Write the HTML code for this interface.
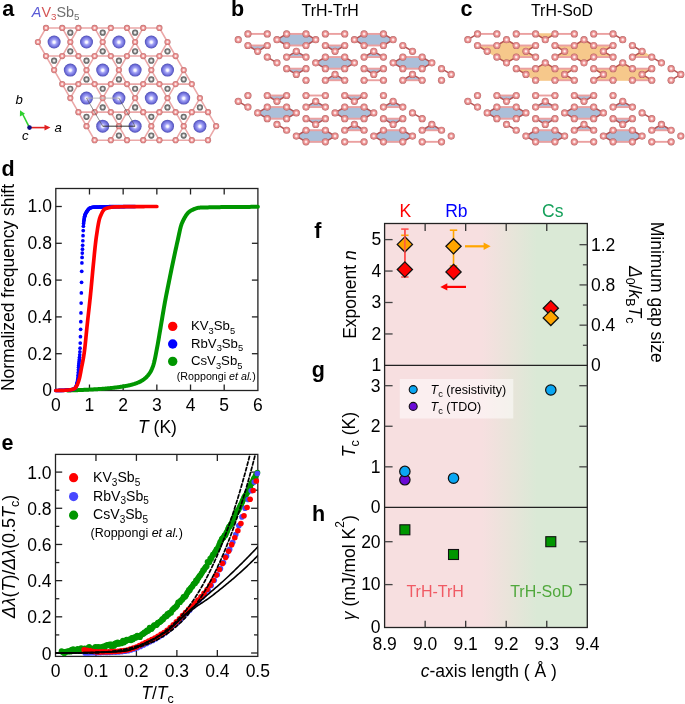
<!DOCTYPE html><html><head><meta charset="utf-8"><style>html,body{margin:0;padding:0;background:#fff;}svg{display:block;will-change:transform;}</style></head><body><svg width="685" height="704" viewBox="0 0 685 704" font-family="'Liberation Sans', sans-serif">
<rect width="685" height="704" fill="#fff"/>
<defs><radialGradient id="gA" cx="0.5" cy="0.5" r="0.5" fx="0.5" fy="0.52"><stop offset="0" stop-color="#ffffff"/><stop offset="0.18" stop-color="#f0f0ff"/><stop offset="0.4" stop-color="#a4a4f6"/><stop offset="0.75" stop-color="#7272dc"/><stop offset="1" stop-color="#4c4cb4"/></radialGradient><radialGradient id="gV" cx="0.5" cy="0.5" r="0.5"><stop offset="0" stop-color="#ffffff"/><stop offset="0.25" stop-color="#fcdcdc"/><stop offset="0.5" stop-color="#ee9a9a"/><stop offset="0.8" stop-color="#dc8080"/><stop offset="1" stop-color="#b66a6a"/></radialGradient><radialGradient id="gV2" cx="0.5" cy="0.5" r="0.5" fx="0.5" fy="0.5"><stop offset="0" stop-color="#ffffff"/><stop offset="0.22" stop-color="#fde0e0"/><stop offset="0.48" stop-color="#f09c9c"/><stop offset="0.8" stop-color="#dc8080"/><stop offset="1" stop-color="#b06262"/></radialGradient><radialGradient id="gS" cx="0.5" cy="0.5" r="0.5"><stop offset="0" stop-color="#ffffff"/><stop offset="0.3" stop-color="#dadada"/><stop offset="0.6" stop-color="#7c7c7c"/><stop offset="1" stop-color="#5e5e5e"/></radialGradient></defs>
<g stroke="#eba8a8" stroke-width="1.6" stroke-linecap="round">
<line x1="70.3" y1="42" x2="62.2" y2="56.03"/>
<line x1="70.3" y1="42" x2="62.2" y2="27.97"/>
<line x1="70.3" y1="42" x2="78.4" y2="56.03"/>
<line x1="70.3" y1="42" x2="78.4" y2="27.97"/>
<line x1="62.2" y1="56.03" x2="46" y2="56.03"/>
<line x1="62.2" y1="56.03" x2="78.4" y2="56.03"/>
<line x1="62.2" y1="56.03" x2="54.1" y2="70.06"/>
<line x1="46" y1="56.03" x2="37.9" y2="42"/>
<line x1="46" y1="56.03" x2="54.1" y2="70.06"/>
<line x1="37.9" y1="42" x2="46" y2="27.97"/>
<line x1="46" y1="27.97" x2="62.2" y2="27.97"/>
<line x1="62.2" y1="27.97" x2="78.4" y2="27.97"/>
<line x1="102.7" y1="42" x2="94.6" y2="56.03"/>
<line x1="102.7" y1="42" x2="94.6" y2="27.97"/>
<line x1="102.7" y1="42" x2="110.8" y2="56.03"/>
<line x1="102.7" y1="42" x2="110.8" y2="27.97"/>
<line x1="94.6" y1="56.03" x2="78.4" y2="56.03"/>
<line x1="94.6" y1="56.03" x2="110.8" y2="56.03"/>
<line x1="94.6" y1="56.03" x2="86.5" y2="70.06"/>
<line x1="78.4" y1="56.03" x2="86.5" y2="70.06"/>
<line x1="78.4" y1="27.97" x2="94.6" y2="27.97"/>
<line x1="94.6" y1="27.97" x2="110.8" y2="27.97"/>
<line x1="135.1" y1="42" x2="127" y2="56.03"/>
<line x1="135.1" y1="42" x2="127" y2="27.97"/>
<line x1="135.1" y1="42" x2="143.2" y2="56.03"/>
<line x1="135.1" y1="42" x2="143.2" y2="27.97"/>
<line x1="127" y1="56.03" x2="110.8" y2="56.03"/>
<line x1="127" y1="56.03" x2="143.2" y2="56.03"/>
<line x1="127" y1="56.03" x2="118.9" y2="70.06"/>
<line x1="110.8" y1="56.03" x2="118.9" y2="70.06"/>
<line x1="110.8" y1="27.97" x2="127" y2="27.97"/>
<line x1="127" y1="27.97" x2="143.2" y2="27.97"/>
<line x1="167.5" y1="42" x2="159.4" y2="56.03"/>
<line x1="167.5" y1="42" x2="159.4" y2="27.97"/>
<line x1="167.5" y1="42" x2="175.6" y2="56.03"/>
<line x1="159.4" y1="56.03" x2="143.2" y2="56.03"/>
<line x1="159.4" y1="56.03" x2="151.3" y2="70.06"/>
<line x1="159.4" y1="56.03" x2="175.6" y2="56.03"/>
<line x1="143.2" y1="56.03" x2="151.3" y2="70.06"/>
<line x1="143.2" y1="27.97" x2="159.4" y2="27.97"/>
<line x1="86.5" y1="70.06" x2="78.4" y2="84.09"/>
<line x1="86.5" y1="70.06" x2="94.6" y2="84.09"/>
<line x1="78.4" y1="84.09" x2="62.2" y2="84.09"/>
<line x1="78.4" y1="84.09" x2="94.6" y2="84.09"/>
<line x1="78.4" y1="84.09" x2="70.3" y2="98.12"/>
<line x1="62.2" y1="84.09" x2="54.1" y2="70.06"/>
<line x1="62.2" y1="84.09" x2="70.3" y2="98.12"/>
<line x1="118.9" y1="70.06" x2="110.8" y2="84.09"/>
<line x1="118.9" y1="70.06" x2="127" y2="84.09"/>
<line x1="110.8" y1="84.09" x2="94.6" y2="84.09"/>
<line x1="110.8" y1="84.09" x2="127" y2="84.09"/>
<line x1="110.8" y1="84.09" x2="102.7" y2="98.12"/>
<line x1="94.6" y1="84.09" x2="102.7" y2="98.12"/>
<line x1="151.3" y1="70.06" x2="143.2" y2="84.09"/>
<line x1="151.3" y1="70.06" x2="159.4" y2="84.09"/>
<line x1="143.2" y1="84.09" x2="127" y2="84.09"/>
<line x1="143.2" y1="84.09" x2="159.4" y2="84.09"/>
<line x1="143.2" y1="84.09" x2="135.1" y2="98.12"/>
<line x1="127" y1="84.09" x2="135.1" y2="98.12"/>
<line x1="183.7" y1="70.06" x2="175.6" y2="84.09"/>
<line x1="183.7" y1="70.06" x2="175.6" y2="56.03"/>
<line x1="183.7" y1="70.06" x2="191.8" y2="84.09"/>
<line x1="175.6" y1="84.09" x2="159.4" y2="84.09"/>
<line x1="175.6" y1="84.09" x2="167.5" y2="98.12"/>
<line x1="175.6" y1="84.09" x2="191.8" y2="84.09"/>
<line x1="159.4" y1="84.09" x2="167.5" y2="98.12"/>
<line x1="102.7" y1="98.12" x2="94.6" y2="112.15"/>
<line x1="102.7" y1="98.12" x2="110.8" y2="112.15"/>
<line x1="94.6" y1="112.15" x2="78.4" y2="112.15"/>
<line x1="94.6" y1="112.15" x2="110.8" y2="112.15"/>
<line x1="94.6" y1="112.15" x2="86.5" y2="126.18"/>
<line x1="78.4" y1="112.15" x2="70.3" y2="98.12"/>
<line x1="78.4" y1="112.15" x2="86.5" y2="126.18"/>
<line x1="135.1" y1="98.12" x2="127" y2="112.15"/>
<line x1="135.1" y1="98.12" x2="143.2" y2="112.15"/>
<line x1="127" y1="112.15" x2="110.8" y2="112.15"/>
<line x1="127" y1="112.15" x2="143.2" y2="112.15"/>
<line x1="127" y1="112.15" x2="118.9" y2="126.18"/>
<line x1="110.8" y1="112.15" x2="118.9" y2="126.18"/>
<line x1="167.5" y1="98.12" x2="159.4" y2="112.15"/>
<line x1="167.5" y1="98.12" x2="175.6" y2="112.15"/>
<line x1="159.4" y1="112.15" x2="143.2" y2="112.15"/>
<line x1="159.4" y1="112.15" x2="175.6" y2="112.15"/>
<line x1="159.4" y1="112.15" x2="151.3" y2="126.18"/>
<line x1="143.2" y1="112.15" x2="151.3" y2="126.18"/>
<line x1="199.9" y1="98.12" x2="191.8" y2="112.15"/>
<line x1="199.9" y1="98.12" x2="191.8" y2="84.09"/>
<line x1="199.9" y1="98.12" x2="208" y2="112.15"/>
<line x1="191.8" y1="112.15" x2="175.6" y2="112.15"/>
<line x1="191.8" y1="112.15" x2="183.7" y2="126.18"/>
<line x1="191.8" y1="112.15" x2="208" y2="112.15"/>
<line x1="175.6" y1="112.15" x2="183.7" y2="126.18"/>
<line x1="118.9" y1="126.18" x2="110.8" y2="140.21"/>
<line x1="118.9" y1="126.18" x2="127" y2="140.21"/>
<line x1="110.8" y1="140.21" x2="94.6" y2="140.21"/>
<line x1="110.8" y1="140.21" x2="127" y2="140.21"/>
<line x1="94.6" y1="140.21" x2="86.5" y2="126.18"/>
<line x1="151.3" y1="126.18" x2="143.2" y2="140.21"/>
<line x1="151.3" y1="126.18" x2="159.4" y2="140.21"/>
<line x1="143.2" y1="140.21" x2="127" y2="140.21"/>
<line x1="143.2" y1="140.21" x2="159.4" y2="140.21"/>
<line x1="183.7" y1="126.18" x2="175.6" y2="140.21"/>
<line x1="183.7" y1="126.18" x2="191.8" y2="140.21"/>
<line x1="175.6" y1="140.21" x2="159.4" y2="140.21"/>
<line x1="175.6" y1="140.21" x2="191.8" y2="140.21"/>
<line x1="216.1" y1="126.18" x2="208" y2="140.21"/>
<line x1="216.1" y1="126.18" x2="208" y2="112.15"/>
<line x1="208" y1="140.21" x2="191.8" y2="140.21"/>
</g>
<circle cx="118.9" cy="79.41" r="3.1" fill="url(#gS)"/>
<circle cx="183.7" cy="79.41" r="3.1" fill="url(#gS)"/>
<circle cx="70.3" cy="88.77" r="3.1" fill="url(#gS)"/>
<circle cx="167.5" cy="88.77" r="3.1" fill="url(#gS)"/>
<circle cx="102.7" cy="107.47" r="3.1" fill="url(#gS)"/>
<circle cx="167.5" cy="107.47" r="3.1" fill="url(#gS)"/>
<circle cx="54.1" cy="60.71" r="3.1" fill="url(#gS)"/>
<circle cx="70.3" cy="32.65" r="3.1" fill="url(#gS)"/>
<circle cx="118.9" cy="60.71" r="3.1" fill="url(#gS)"/>
<circle cx="70.3" cy="51.35" r="3.1" fill="url(#gS)"/>
<circle cx="167.5" cy="51.35" r="3.1" fill="url(#gS)"/>
<circle cx="151.3" cy="79.41" r="3.1" fill="url(#gS)"/>
<circle cx="183.7" cy="135.53" r="3.1" fill="url(#gS)"/>
<circle cx="86.5" cy="60.71" r="3.1" fill="url(#gS)"/>
<circle cx="135.1" cy="51.35" r="3.1" fill="url(#gS)"/>
<circle cx="151.3" cy="60.71" r="3.1" fill="url(#gS)"/>
<circle cx="199.9" cy="107.47" r="3.1" fill="url(#gS)"/>
<circle cx="151.3" cy="135.53" r="3.1" fill="url(#gS)"/>
<circle cx="135.1" cy="107.47" r="3.1" fill="url(#gS)"/>
<circle cx="102.7" cy="51.35" r="3.1" fill="url(#gS)"/>
<circle cx="118.9" cy="116.83" r="3.1" fill="url(#gS)"/>
<circle cx="135.1" cy="88.77" r="3.1" fill="url(#gS)"/>
<circle cx="135.1" cy="32.65" r="3.1" fill="url(#gS)"/>
<circle cx="86.5" cy="116.83" r="3.1" fill="url(#gS)"/>
<circle cx="183.7" cy="116.83" r="3.1" fill="url(#gS)"/>
<circle cx="86.5" cy="79.41" r="3.1" fill="url(#gS)"/>
<circle cx="102.7" cy="32.65" r="3.1" fill="url(#gS)"/>
<circle cx="102.7" cy="88.77" r="3.1" fill="url(#gS)"/>
<circle cx="118.9" cy="135.53" r="3.1" fill="url(#gS)"/>
<circle cx="151.3" cy="116.83" r="3.1" fill="url(#gS)"/>
<circle cx="70.3" cy="42" r="3.1" fill="url(#gV)"/>
<circle cx="62.2" cy="56.03" r="3.1" fill="url(#gV)"/>
<circle cx="46" cy="56.03" r="3.1" fill="url(#gV)"/>
<circle cx="37.9" cy="42" r="3.1" fill="url(#gV)"/>
<circle cx="46" cy="27.97" r="3.1" fill="url(#gV)"/>
<circle cx="62.2" cy="27.97" r="3.1" fill="url(#gV)"/>
<circle cx="102.7" cy="42" r="3.1" fill="url(#gV)"/>
<circle cx="94.6" cy="56.03" r="3.1" fill="url(#gV)"/>
<circle cx="78.4" cy="56.03" r="3.1" fill="url(#gV)"/>
<circle cx="78.4" cy="27.97" r="3.1" fill="url(#gV)"/>
<circle cx="94.6" cy="27.97" r="3.1" fill="url(#gV)"/>
<circle cx="135.1" cy="42" r="3.1" fill="url(#gV)"/>
<circle cx="127" cy="56.03" r="3.1" fill="url(#gV)"/>
<circle cx="110.8" cy="56.03" r="3.1" fill="url(#gV)"/>
<circle cx="110.8" cy="27.97" r="3.1" fill="url(#gV)"/>
<circle cx="127" cy="27.97" r="3.1" fill="url(#gV)"/>
<circle cx="167.5" cy="42" r="3.1" fill="url(#gV)"/>
<circle cx="159.4" cy="56.03" r="3.1" fill="url(#gV)"/>
<circle cx="143.2" cy="56.03" r="3.1" fill="url(#gV)"/>
<circle cx="143.2" cy="27.97" r="3.1" fill="url(#gV)"/>
<circle cx="159.4" cy="27.97" r="3.1" fill="url(#gV)"/>
<circle cx="86.5" cy="70.06" r="3.1" fill="url(#gV)"/>
<circle cx="78.4" cy="84.09" r="3.1" fill="url(#gV)"/>
<circle cx="62.2" cy="84.09" r="3.1" fill="url(#gV)"/>
<circle cx="54.1" cy="70.06" r="3.1" fill="url(#gV)"/>
<circle cx="118.9" cy="70.06" r="3.1" fill="url(#gV)"/>
<circle cx="110.8" cy="84.09" r="3.1" fill="url(#gV)"/>
<circle cx="94.6" cy="84.09" r="3.1" fill="url(#gV)"/>
<circle cx="151.3" cy="70.06" r="3.1" fill="url(#gV)"/>
<circle cx="143.2" cy="84.09" r="3.1" fill="url(#gV)"/>
<circle cx="127" cy="84.09" r="3.1" fill="url(#gV)"/>
<circle cx="183.7" cy="70.06" r="3.1" fill="url(#gV)"/>
<circle cx="175.6" cy="84.09" r="3.1" fill="url(#gV)"/>
<circle cx="159.4" cy="84.09" r="3.1" fill="url(#gV)"/>
<circle cx="175.6" cy="56.03" r="3.1" fill="url(#gV)"/>
<circle cx="102.7" cy="98.12" r="3.1" fill="url(#gV)"/>
<circle cx="94.6" cy="112.15" r="3.1" fill="url(#gV)"/>
<circle cx="78.4" cy="112.15" r="3.1" fill="url(#gV)"/>
<circle cx="70.3" cy="98.12" r="3.1" fill="url(#gV)"/>
<circle cx="135.1" cy="98.12" r="3.1" fill="url(#gV)"/>
<circle cx="127" cy="112.15" r="3.1" fill="url(#gV)"/>
<circle cx="110.8" cy="112.15" r="3.1" fill="url(#gV)"/>
<circle cx="167.5" cy="98.12" r="3.1" fill="url(#gV)"/>
<circle cx="159.4" cy="112.15" r="3.1" fill="url(#gV)"/>
<circle cx="143.2" cy="112.15" r="3.1" fill="url(#gV)"/>
<circle cx="199.9" cy="98.12" r="3.1" fill="url(#gV)"/>
<circle cx="191.8" cy="112.15" r="3.1" fill="url(#gV)"/>
<circle cx="175.6" cy="112.15" r="3.1" fill="url(#gV)"/>
<circle cx="191.8" cy="84.09" r="3.1" fill="url(#gV)"/>
<circle cx="118.9" cy="126.18" r="3.1" fill="url(#gV)"/>
<circle cx="110.8" cy="140.21" r="3.1" fill="url(#gV)"/>
<circle cx="94.6" cy="140.21" r="3.1" fill="url(#gV)"/>
<circle cx="86.5" cy="126.18" r="3.1" fill="url(#gV)"/>
<circle cx="151.3" cy="126.18" r="3.1" fill="url(#gV)"/>
<circle cx="143.2" cy="140.21" r="3.1" fill="url(#gV)"/>
<circle cx="127" cy="140.21" r="3.1" fill="url(#gV)"/>
<circle cx="183.7" cy="126.18" r="3.1" fill="url(#gV)"/>
<circle cx="175.6" cy="140.21" r="3.1" fill="url(#gV)"/>
<circle cx="159.4" cy="140.21" r="3.1" fill="url(#gV)"/>
<circle cx="216.1" cy="126.18" r="3.1" fill="url(#gV)"/>
<circle cx="208" cy="140.21" r="3.1" fill="url(#gV)"/>
<circle cx="191.8" cy="140.21" r="3.1" fill="url(#gV)"/>
<circle cx="208" cy="112.15" r="3.1" fill="url(#gV)"/>
<circle cx="54.1" cy="42" r="6.5" fill="url(#gA)"/>
<circle cx="86.5" cy="42" r="6.5" fill="url(#gA)"/>
<circle cx="118.9" cy="42" r="6.5" fill="url(#gA)"/>
<circle cx="151.3" cy="42" r="6.5" fill="url(#gA)"/>
<circle cx="70.3" cy="70.06" r="6.5" fill="url(#gA)"/>
<circle cx="102.7" cy="70.06" r="6.5" fill="url(#gA)"/>
<circle cx="135.1" cy="70.06" r="6.5" fill="url(#gA)"/>
<circle cx="167.5" cy="70.06" r="6.5" fill="url(#gA)"/>
<circle cx="86.5" cy="98.12" r="6.5" fill="url(#gA)"/>
<circle cx="118.9" cy="98.12" r="6.5" fill="url(#gA)"/>
<circle cx="151.3" cy="98.12" r="6.5" fill="url(#gA)"/>
<circle cx="183.7" cy="98.12" r="6.5" fill="url(#gA)"/>
<circle cx="102.7" cy="126.18" r="6.5" fill="url(#gA)"/>
<circle cx="135.1" cy="126.18" r="6.5" fill="url(#gA)"/>
<circle cx="167.5" cy="126.18" r="6.5" fill="url(#gA)"/>
<circle cx="199.9" cy="126.18" r="6.5" fill="url(#gA)"/>
<line x1="86.5" y1="98.12" x2="118.9" y2="98.12" stroke="#b0b0b0" stroke-width="0.9" />
<line x1="102.7" y1="126.18" x2="135.1" y2="126.18" stroke="#333" stroke-width="1.0" />
<line x1="86.5" y1="98.12" x2="102.7" y2="126.18" stroke="#555" stroke-width="0.65" />
<line x1="118.9" y1="98.12" x2="135.1" y2="126.18" stroke="#555" stroke-width="0.65" />
<line x1="29.5" y1="127.6" x2="46" y2="127.6" stroke="#e02020" stroke-width="1.6" />
<path d="M50.5,127.6 L44.5,124.8 L44.5,130.4 Z" fill="#e02020"/>
<line x1="29.5" y1="127.6" x2="22.6" y2="114" stroke="#2ed02e" stroke-width="1.6" />
<path d="M20.0,110.2 L19.9,116.4 L25.0,113.8 Z" fill="#2ed02e"/>
<circle cx="29.5" cy="127.6" r="2.3" fill="#101080"/>
<text x="54.6" y="132" font-size="13.2" font-style="italic">a</text>
<text x="15.4" y="104" font-size="13.2" font-style="italic">b</text>
<text x="22" y="140" font-size="13.2" font-style="italic">c</text>
<text x="31.8" y="16.6" font-size="14.4"><tspan fill="#5b5bd6" font-style="italic">A</tspan><tspan fill="#d45656">V</tspan><tspan fill="#d45656" font-size="9.8" dy="3.6">3</tspan><tspan fill="#707070" dy="-3.6">Sb</tspan><tspan fill="#707070" font-size="9.8" dy="3.6">5</tspan></text>
<path d="M247.92,45.49 L267.28,45.49 L257.6,51.28 Z" fill="#abbfd9" stroke="#abbfd9" stroke-width="1.2" stroke-linejoin="round"/>
<path d="M315.68,39.7 L306,45.49 L286.64,45.49 L276.96,39.7 L286.64,33.91 L306,33.91 Z" fill="#abbfd9" stroke="#abbfd9" stroke-width="1.2" stroke-linejoin="round"/>
<path d="M325.36,45.49 L344.72,45.49 L335.04,51.28 Z" fill="#abbfd9" stroke="#abbfd9" stroke-width="1.2" stroke-linejoin="round"/>
<path d="M393.12,39.7 L383.44,45.49 L364.08,45.49 L354.4,39.7 L364.08,33.91 L383.44,33.91 Z" fill="#abbfd9" stroke="#abbfd9" stroke-width="1.2" stroke-linejoin="round"/>
<path d="M286.64,57.07 L306,57.07 L296.32,51.28 Z" fill="#abbfd9" stroke="#abbfd9" stroke-width="1.2" stroke-linejoin="round"/>
<path d="M286.64,68.65 L306,68.65 L296.32,74.44 Z" fill="#abbfd9" stroke="#abbfd9" stroke-width="1.2" stroke-linejoin="round"/>
<path d="M354.4,62.86 L344.72,68.65 L325.36,68.65 L315.68,62.86 L325.36,57.07 L344.72,57.07 Z" fill="#abbfd9" stroke="#abbfd9" stroke-width="1.2" stroke-linejoin="round"/>
<path d="M364.08,57.07 L383.44,57.07 L373.76,51.28 Z" fill="#abbfd9" stroke="#abbfd9" stroke-width="1.2" stroke-linejoin="round"/>
<path d="M364.08,68.65 L383.44,68.65 L373.76,74.44 Z" fill="#abbfd9" stroke="#abbfd9" stroke-width="1.2" stroke-linejoin="round"/>
<path d="M431.84,62.86 L422.16,68.65 L402.8,68.65 L393.12,62.86 L402.8,57.07 L422.16,57.07 Z" fill="#abbfd9" stroke="#abbfd9" stroke-width="1.2" stroke-linejoin="round"/>
<path d="M325.36,80.23 L344.72,80.23 L335.04,74.44 Z" fill="#abbfd9" stroke="#abbfd9" stroke-width="1.2" stroke-linejoin="round"/>
<path d="M402.8,80.23 L422.16,80.23 L412.48,74.44 Z" fill="#abbfd9" stroke="#abbfd9" stroke-width="1.2" stroke-linejoin="round"/>
<line x1="247.92" y1="33.91" x2="267.28" y2="33.91" stroke="#eba0a0" stroke-width="1.9"/>
<line x1="247.92" y1="45.49" x2="267.28" y2="45.49" stroke="#eba0a0" stroke-width="1.9"/>
<line x1="267.28" y1="45.49" x2="257.6" y2="51.28" stroke="#b85252" stroke-width="1.5"/>
<line x1="257.6" y1="51.28" x2="247.92" y2="45.49" stroke="#b85252" stroke-width="1.5"/>
<line x1="315.68" y1="39.7" x2="306" y2="45.49" stroke="#b85252" stroke-width="1.5"/>
<line x1="306" y1="45.49" x2="286.64" y2="45.49" stroke="#eba0a0" stroke-width="1.9"/>
<line x1="286.64" y1="45.49" x2="276.96" y2="39.7" stroke="#b85252" stroke-width="1.5"/>
<line x1="276.96" y1="39.7" x2="286.64" y2="33.91" stroke="#b85252" stroke-width="1.5"/>
<line x1="286.64" y1="33.91" x2="306" y2="33.91" stroke="#eba0a0" stroke-width="1.9"/>
<line x1="306" y1="33.91" x2="315.68" y2="39.7" stroke="#b85252" stroke-width="1.5"/>
<line x1="325.36" y1="33.91" x2="344.72" y2="33.91" stroke="#eba0a0" stroke-width="1.9"/>
<line x1="325.36" y1="45.49" x2="344.72" y2="45.49" stroke="#eba0a0" stroke-width="1.9"/>
<line x1="344.72" y1="45.49" x2="335.04" y2="51.28" stroke="#b85252" stroke-width="1.5"/>
<line x1="335.04" y1="51.28" x2="325.36" y2="45.49" stroke="#b85252" stroke-width="1.5"/>
<line x1="393.12" y1="39.7" x2="383.44" y2="45.49" stroke="#b85252" stroke-width="1.5"/>
<line x1="383.44" y1="45.49" x2="364.08" y2="45.49" stroke="#eba0a0" stroke-width="1.9"/>
<line x1="364.08" y1="45.49" x2="354.4" y2="39.7" stroke="#b85252" stroke-width="1.5"/>
<line x1="354.4" y1="39.7" x2="364.08" y2="33.91" stroke="#b85252" stroke-width="1.5"/>
<line x1="364.08" y1="33.91" x2="383.44" y2="33.91" stroke="#eba0a0" stroke-width="1.9"/>
<line x1="383.44" y1="33.91" x2="393.12" y2="39.7" stroke="#b85252" stroke-width="1.5"/>
<line x1="412.48" y1="51.28" x2="402.8" y2="45.49" stroke="#b85252" stroke-width="1.5"/>
<line x1="267.28" y1="57.07" x2="276.96" y2="62.86" stroke="#b85252" stroke-width="1.5"/>
<line x1="286.64" y1="57.07" x2="306" y2="57.07" stroke="#eba0a0" stroke-width="1.9"/>
<line x1="306" y1="57.07" x2="296.32" y2="51.28" stroke="#b85252" stroke-width="1.5"/>
<line x1="296.32" y1="51.28" x2="286.64" y2="57.07" stroke="#b85252" stroke-width="1.5"/>
<line x1="286.64" y1="68.65" x2="306" y2="68.65" stroke="#eba0a0" stroke-width="1.9"/>
<line x1="306" y1="68.65" x2="296.32" y2="74.44" stroke="#b85252" stroke-width="1.5"/>
<line x1="296.32" y1="74.44" x2="286.64" y2="68.65" stroke="#b85252" stroke-width="1.5"/>
<line x1="354.4" y1="62.86" x2="344.72" y2="68.65" stroke="#b85252" stroke-width="1.5"/>
<line x1="344.72" y1="68.65" x2="325.36" y2="68.65" stroke="#eba0a0" stroke-width="1.9"/>
<line x1="325.36" y1="68.65" x2="315.68" y2="62.86" stroke="#b85252" stroke-width="1.5"/>
<line x1="315.68" y1="62.86" x2="325.36" y2="57.07" stroke="#b85252" stroke-width="1.5"/>
<line x1="325.36" y1="57.07" x2="344.72" y2="57.07" stroke="#eba0a0" stroke-width="1.9"/>
<line x1="344.72" y1="57.07" x2="354.4" y2="62.86" stroke="#b85252" stroke-width="1.5"/>
<line x1="364.08" y1="57.07" x2="383.44" y2="57.07" stroke="#eba0a0" stroke-width="1.9"/>
<line x1="383.44" y1="57.07" x2="373.76" y2="51.28" stroke="#b85252" stroke-width="1.5"/>
<line x1="373.76" y1="51.28" x2="364.08" y2="57.07" stroke="#b85252" stroke-width="1.5"/>
<line x1="364.08" y1="68.65" x2="383.44" y2="68.65" stroke="#eba0a0" stroke-width="1.9"/>
<line x1="383.44" y1="68.65" x2="373.76" y2="74.44" stroke="#b85252" stroke-width="1.5"/>
<line x1="373.76" y1="74.44" x2="364.08" y2="68.65" stroke="#b85252" stroke-width="1.5"/>
<line x1="431.84" y1="62.86" x2="422.16" y2="68.65" stroke="#b85252" stroke-width="1.5"/>
<line x1="422.16" y1="68.65" x2="402.8" y2="68.65" stroke="#eba0a0" stroke-width="1.9"/>
<line x1="402.8" y1="68.65" x2="393.12" y2="62.86" stroke="#b85252" stroke-width="1.5"/>
<line x1="393.12" y1="62.86" x2="402.8" y2="57.07" stroke="#b85252" stroke-width="1.5"/>
<line x1="402.8" y1="57.07" x2="422.16" y2="57.07" stroke="#eba0a0" stroke-width="1.9"/>
<line x1="422.16" y1="57.07" x2="431.84" y2="62.86" stroke="#b85252" stroke-width="1.5"/>
<line x1="451.2" y1="74.44" x2="441.52" y2="68.65" stroke="#b85252" stroke-width="1.5"/>
<line x1="325.36" y1="80.23" x2="344.72" y2="80.23" stroke="#eba0a0" stroke-width="1.9"/>
<line x1="344.72" y1="80.23" x2="335.04" y2="74.44" stroke="#b85252" stroke-width="1.5"/>
<line x1="335.04" y1="74.44" x2="325.36" y2="80.23" stroke="#b85252" stroke-width="1.5"/>
<line x1="364.08" y1="80.23" x2="383.44" y2="80.23" stroke="#eba0a0" stroke-width="1.9"/>
<line x1="402.8" y1="80.23" x2="422.16" y2="80.23" stroke="#eba0a0" stroke-width="1.9"/>
<line x1="422.16" y1="80.23" x2="412.48" y2="74.44" stroke="#b85252" stroke-width="1.5"/>
<line x1="412.48" y1="74.44" x2="402.8" y2="80.23" stroke="#b85252" stroke-width="1.5"/>
<circle cx="247.92" cy="33.91" r="3.6" fill="url(#gV2)"/>
<circle cx="267.28" cy="33.91" r="3.6" fill="url(#gV2)"/>
<circle cx="286.64" cy="33.91" r="3.6" fill="url(#gV2)"/>
<circle cx="306" cy="33.91" r="3.6" fill="url(#gV2)"/>
<circle cx="325.36" cy="33.91" r="3.6" fill="url(#gV2)"/>
<circle cx="344.72" cy="33.91" r="3.6" fill="url(#gV2)"/>
<circle cx="364.08" cy="33.91" r="3.6" fill="url(#gV2)"/>
<circle cx="383.44" cy="33.91" r="3.6" fill="url(#gV2)"/>
<circle cx="238.24" cy="39.7" r="3.6" fill="url(#gV2)"/>
<circle cx="276.96" cy="39.7" r="3.6" fill="url(#gV2)"/>
<circle cx="315.68" cy="39.7" r="3.6" fill="url(#gV2)"/>
<circle cx="354.4" cy="39.7" r="3.6" fill="url(#gV2)"/>
<circle cx="393.12" cy="39.7" r="3.6" fill="url(#gV2)"/>
<circle cx="247.92" cy="45.49" r="3.6" fill="url(#gV2)"/>
<circle cx="267.28" cy="45.49" r="3.6" fill="url(#gV2)"/>
<circle cx="286.64" cy="45.49" r="3.6" fill="url(#gV2)"/>
<circle cx="306" cy="45.49" r="3.6" fill="url(#gV2)"/>
<circle cx="325.36" cy="45.49" r="3.6" fill="url(#gV2)"/>
<circle cx="344.72" cy="45.49" r="3.6" fill="url(#gV2)"/>
<circle cx="364.08" cy="45.49" r="3.6" fill="url(#gV2)"/>
<circle cx="383.44" cy="45.49" r="3.6" fill="url(#gV2)"/>
<circle cx="402.8" cy="45.49" r="3.6" fill="url(#gV2)"/>
<circle cx="257.6" cy="51.28" r="3.6" fill="url(#gV2)"/>
<circle cx="296.32" cy="51.28" r="3.6" fill="url(#gV2)"/>
<circle cx="335.04" cy="51.28" r="3.6" fill="url(#gV2)"/>
<circle cx="373.76" cy="51.28" r="3.6" fill="url(#gV2)"/>
<circle cx="412.48" cy="51.28" r="3.6" fill="url(#gV2)"/>
<circle cx="267.28" cy="57.07" r="3.6" fill="url(#gV2)"/>
<circle cx="286.64" cy="57.07" r="3.6" fill="url(#gV2)"/>
<circle cx="306" cy="57.07" r="3.6" fill="url(#gV2)"/>
<circle cx="325.36" cy="57.07" r="3.6" fill="url(#gV2)"/>
<circle cx="344.72" cy="57.07" r="3.6" fill="url(#gV2)"/>
<circle cx="364.08" cy="57.07" r="3.6" fill="url(#gV2)"/>
<circle cx="383.44" cy="57.07" r="3.6" fill="url(#gV2)"/>
<circle cx="402.8" cy="57.07" r="3.6" fill="url(#gV2)"/>
<circle cx="422.16" cy="57.07" r="3.6" fill="url(#gV2)"/>
<circle cx="276.96" cy="62.86" r="3.6" fill="url(#gV2)"/>
<circle cx="315.68" cy="62.86" r="3.6" fill="url(#gV2)"/>
<circle cx="354.4" cy="62.86" r="3.6" fill="url(#gV2)"/>
<circle cx="393.12" cy="62.86" r="3.6" fill="url(#gV2)"/>
<circle cx="431.84" cy="62.86" r="3.6" fill="url(#gV2)"/>
<circle cx="306" cy="68.65" r="3.6" fill="url(#gV2)"/>
<circle cx="325.36" cy="68.65" r="3.6" fill="url(#gV2)"/>
<circle cx="344.72" cy="68.65" r="3.6" fill="url(#gV2)"/>
<circle cx="364.08" cy="68.65" r="3.6" fill="url(#gV2)"/>
<circle cx="383.44" cy="68.65" r="3.6" fill="url(#gV2)"/>
<circle cx="402.8" cy="68.65" r="3.6" fill="url(#gV2)"/>
<circle cx="422.16" cy="68.65" r="3.6" fill="url(#gV2)"/>
<circle cx="441.52" cy="68.65" r="3.6" fill="url(#gV2)"/>
<circle cx="286.64" cy="68.65" r="3.6" fill="url(#gV2)"/>
<circle cx="296.32" cy="74.44" r="3.6" fill="url(#gV2)"/>
<circle cx="335.04" cy="74.44" r="3.6" fill="url(#gV2)"/>
<circle cx="373.76" cy="74.44" r="3.6" fill="url(#gV2)"/>
<circle cx="412.48" cy="74.44" r="3.6" fill="url(#gV2)"/>
<circle cx="451.2" cy="74.44" r="3.6" fill="url(#gV2)"/>
<circle cx="306" cy="80.23" r="3.6" fill="url(#gV2)"/>
<circle cx="325.36" cy="80.23" r="3.6" fill="url(#gV2)"/>
<circle cx="344.72" cy="80.23" r="3.6" fill="url(#gV2)"/>
<circle cx="364.08" cy="80.23" r="3.6" fill="url(#gV2)"/>
<circle cx="383.44" cy="80.23" r="3.6" fill="url(#gV2)"/>
<circle cx="402.8" cy="80.23" r="3.6" fill="url(#gV2)"/>
<circle cx="422.16" cy="80.23" r="3.6" fill="url(#gV2)"/>
<circle cx="441.52" cy="80.23" r="3.6" fill="url(#gV2)"/>
<path d="M267.28,95.51 L286.64,95.51 L276.96,101.3 Z" fill="#abbfd9" stroke="#abbfd9" stroke-width="1.2" stroke-linejoin="round"/>
<path d="M344.72,95.51 L364.08,95.51 L354.4,101.3 Z" fill="#abbfd9" stroke="#abbfd9" stroke-width="1.2" stroke-linejoin="round"/>
<path d="M296.32,112.88 L286.64,118.67 L267.28,118.67 L257.6,112.88 L267.28,107.09 L286.64,107.09 Z" fill="#abbfd9" stroke="#abbfd9" stroke-width="1.2" stroke-linejoin="round"/>
<path d="M306,107.09 L325.36,107.09 L315.68,101.3 Z" fill="#abbfd9" stroke="#abbfd9" stroke-width="1.2" stroke-linejoin="round"/>
<path d="M306,118.67 L325.36,118.67 L315.68,124.46 Z" fill="#abbfd9" stroke="#abbfd9" stroke-width="1.2" stroke-linejoin="round"/>
<path d="M373.76,112.88 L364.08,118.67 L344.72,118.67 L335.04,112.88 L344.72,107.09 L364.08,107.09 Z" fill="#abbfd9" stroke="#abbfd9" stroke-width="1.2" stroke-linejoin="round"/>
<path d="M383.44,107.09 L402.8,107.09 L393.12,101.3 Z" fill="#abbfd9" stroke="#abbfd9" stroke-width="1.2" stroke-linejoin="round"/>
<path d="M383.44,118.67 L402.8,118.67 L393.12,124.46 Z" fill="#abbfd9" stroke="#abbfd9" stroke-width="1.2" stroke-linejoin="round"/>
<path d="M335.04,136.04 L325.36,141.83 L306,141.83 L296.32,136.04 L306,130.25 L325.36,130.25 Z" fill="#abbfd9" stroke="#abbfd9" stroke-width="1.2" stroke-linejoin="round"/>
<path d="M344.72,130.25 L364.08,130.25 L354.4,124.46 Z" fill="#abbfd9" stroke="#abbfd9" stroke-width="1.2" stroke-linejoin="round"/>
<path d="M412.48,136.04 L402.8,141.83 L383.44,141.83 L373.76,136.04 L383.44,130.25 L402.8,130.25 Z" fill="#abbfd9" stroke="#abbfd9" stroke-width="1.2" stroke-linejoin="round"/>
<path d="M422.16,130.25 L441.52,130.25 L431.84,124.46 Z" fill="#abbfd9" stroke="#abbfd9" stroke-width="1.2" stroke-linejoin="round"/>
<line x1="267.28" y1="95.51" x2="286.64" y2="95.51" stroke="#eba0a0" stroke-width="1.9"/>
<line x1="286.64" y1="95.51" x2="276.96" y2="101.3" stroke="#b85252" stroke-width="1.5"/>
<line x1="276.96" y1="101.3" x2="267.28" y2="95.51" stroke="#b85252" stroke-width="1.5"/>
<line x1="325.36" y1="95.51" x2="306" y2="95.51" stroke="#eba0a0" stroke-width="1.9"/>
<line x1="344.72" y1="95.51" x2="364.08" y2="95.51" stroke="#eba0a0" stroke-width="1.9"/>
<line x1="364.08" y1="95.51" x2="354.4" y2="101.3" stroke="#b85252" stroke-width="1.5"/>
<line x1="354.4" y1="101.3" x2="344.72" y2="95.51" stroke="#b85252" stroke-width="1.5"/>
<line x1="247.92" y1="107.09" x2="238.24" y2="101.3" stroke="#b85252" stroke-width="1.5"/>
<line x1="296.32" y1="112.88" x2="286.64" y2="118.67" stroke="#b85252" stroke-width="1.5"/>
<line x1="286.64" y1="118.67" x2="267.28" y2="118.67" stroke="#eba0a0" stroke-width="1.9"/>
<line x1="267.28" y1="118.67" x2="257.6" y2="112.88" stroke="#b85252" stroke-width="1.5"/>
<line x1="257.6" y1="112.88" x2="267.28" y2="107.09" stroke="#b85252" stroke-width="1.5"/>
<line x1="267.28" y1="107.09" x2="286.64" y2="107.09" stroke="#eba0a0" stroke-width="1.9"/>
<line x1="286.64" y1="107.09" x2="296.32" y2="112.88" stroke="#b85252" stroke-width="1.5"/>
<line x1="306" y1="107.09" x2="325.36" y2="107.09" stroke="#eba0a0" stroke-width="1.9"/>
<line x1="325.36" y1="107.09" x2="315.68" y2="101.3" stroke="#b85252" stroke-width="1.5"/>
<line x1="315.68" y1="101.3" x2="306" y2="107.09" stroke="#b85252" stroke-width="1.5"/>
<line x1="306" y1="118.67" x2="325.36" y2="118.67" stroke="#eba0a0" stroke-width="1.9"/>
<line x1="325.36" y1="118.67" x2="315.68" y2="124.46" stroke="#b85252" stroke-width="1.5"/>
<line x1="315.68" y1="124.46" x2="306" y2="118.67" stroke="#b85252" stroke-width="1.5"/>
<line x1="373.76" y1="112.88" x2="364.08" y2="118.67" stroke="#b85252" stroke-width="1.5"/>
<line x1="364.08" y1="118.67" x2="344.72" y2="118.67" stroke="#eba0a0" stroke-width="1.9"/>
<line x1="344.72" y1="118.67" x2="335.04" y2="112.88" stroke="#b85252" stroke-width="1.5"/>
<line x1="335.04" y1="112.88" x2="344.72" y2="107.09" stroke="#b85252" stroke-width="1.5"/>
<line x1="344.72" y1="107.09" x2="364.08" y2="107.09" stroke="#eba0a0" stroke-width="1.9"/>
<line x1="364.08" y1="107.09" x2="373.76" y2="112.88" stroke="#b85252" stroke-width="1.5"/>
<line x1="383.44" y1="107.09" x2="402.8" y2="107.09" stroke="#eba0a0" stroke-width="1.9"/>
<line x1="402.8" y1="107.09" x2="393.12" y2="101.3" stroke="#b85252" stroke-width="1.5"/>
<line x1="393.12" y1="101.3" x2="383.44" y2="107.09" stroke="#b85252" stroke-width="1.5"/>
<line x1="383.44" y1="118.67" x2="402.8" y2="118.67" stroke="#eba0a0" stroke-width="1.9"/>
<line x1="402.8" y1="118.67" x2="393.12" y2="124.46" stroke="#b85252" stroke-width="1.5"/>
<line x1="393.12" y1="124.46" x2="383.44" y2="118.67" stroke="#b85252" stroke-width="1.5"/>
<line x1="422.16" y1="118.67" x2="412.48" y2="112.88" stroke="#b85252" stroke-width="1.5"/>
<line x1="286.64" y1="130.25" x2="276.96" y2="124.46" stroke="#b85252" stroke-width="1.5"/>
<line x1="335.04" y1="136.04" x2="325.36" y2="141.83" stroke="#b85252" stroke-width="1.5"/>
<line x1="325.36" y1="141.83" x2="306" y2="141.83" stroke="#eba0a0" stroke-width="1.9"/>
<line x1="306" y1="141.83" x2="296.32" y2="136.04" stroke="#b85252" stroke-width="1.5"/>
<line x1="296.32" y1="136.04" x2="306" y2="130.25" stroke="#b85252" stroke-width="1.5"/>
<line x1="306" y1="130.25" x2="325.36" y2="130.25" stroke="#eba0a0" stroke-width="1.9"/>
<line x1="325.36" y1="130.25" x2="335.04" y2="136.04" stroke="#b85252" stroke-width="1.5"/>
<line x1="344.72" y1="130.25" x2="364.08" y2="130.25" stroke="#eba0a0" stroke-width="1.9"/>
<line x1="364.08" y1="130.25" x2="354.4" y2="124.46" stroke="#b85252" stroke-width="1.5"/>
<line x1="354.4" y1="124.46" x2="344.72" y2="130.25" stroke="#b85252" stroke-width="1.5"/>
<line x1="344.72" y1="141.83" x2="364.08" y2="141.83" stroke="#eba0a0" stroke-width="1.9"/>
<line x1="412.48" y1="136.04" x2="402.8" y2="141.83" stroke="#b85252" stroke-width="1.5"/>
<line x1="402.8" y1="141.83" x2="383.44" y2="141.83" stroke="#eba0a0" stroke-width="1.9"/>
<line x1="383.44" y1="141.83" x2="373.76" y2="136.04" stroke="#b85252" stroke-width="1.5"/>
<line x1="373.76" y1="136.04" x2="383.44" y2="130.25" stroke="#b85252" stroke-width="1.5"/>
<line x1="383.44" y1="130.25" x2="402.8" y2="130.25" stroke="#eba0a0" stroke-width="1.9"/>
<line x1="402.8" y1="130.25" x2="412.48" y2="136.04" stroke="#b85252" stroke-width="1.5"/>
<line x1="422.16" y1="130.25" x2="441.52" y2="130.25" stroke="#eba0a0" stroke-width="1.9"/>
<line x1="441.52" y1="130.25" x2="431.84" y2="124.46" stroke="#b85252" stroke-width="1.5"/>
<line x1="431.84" y1="124.46" x2="422.16" y2="130.25" stroke="#b85252" stroke-width="1.5"/>
<line x1="422.16" y1="141.83" x2="441.52" y2="141.83" stroke="#eba0a0" stroke-width="1.9"/>
<circle cx="247.92" cy="95.51" r="3.6" fill="url(#gV2)"/>
<circle cx="267.28" cy="95.51" r="3.6" fill="url(#gV2)"/>
<circle cx="286.64" cy="95.51" r="3.6" fill="url(#gV2)"/>
<circle cx="306" cy="95.51" r="3.6" fill="url(#gV2)"/>
<circle cx="325.36" cy="95.51" r="3.6" fill="url(#gV2)"/>
<circle cx="344.72" cy="95.51" r="3.6" fill="url(#gV2)"/>
<circle cx="364.08" cy="95.51" r="3.6" fill="url(#gV2)"/>
<circle cx="383.44" cy="95.51" r="3.6" fill="url(#gV2)"/>
<circle cx="238.24" cy="101.3" r="3.6" fill="url(#gV2)"/>
<circle cx="276.96" cy="101.3" r="3.6" fill="url(#gV2)"/>
<circle cx="315.68" cy="101.3" r="3.6" fill="url(#gV2)"/>
<circle cx="354.4" cy="101.3" r="3.6" fill="url(#gV2)"/>
<circle cx="393.12" cy="101.3" r="3.6" fill="url(#gV2)"/>
<circle cx="267.28" cy="107.09" r="3.6" fill="url(#gV2)"/>
<circle cx="286.64" cy="107.09" r="3.6" fill="url(#gV2)"/>
<circle cx="306" cy="107.09" r="3.6" fill="url(#gV2)"/>
<circle cx="325.36" cy="107.09" r="3.6" fill="url(#gV2)"/>
<circle cx="344.72" cy="107.09" r="3.6" fill="url(#gV2)"/>
<circle cx="364.08" cy="107.09" r="3.6" fill="url(#gV2)"/>
<circle cx="383.44" cy="107.09" r="3.6" fill="url(#gV2)"/>
<circle cx="402.8" cy="107.09" r="3.6" fill="url(#gV2)"/>
<circle cx="247.92" cy="107.09" r="3.6" fill="url(#gV2)"/>
<circle cx="257.6" cy="112.88" r="3.6" fill="url(#gV2)"/>
<circle cx="296.32" cy="112.88" r="3.6" fill="url(#gV2)"/>
<circle cx="335.04" cy="112.88" r="3.6" fill="url(#gV2)"/>
<circle cx="373.76" cy="112.88" r="3.6" fill="url(#gV2)"/>
<circle cx="412.48" cy="112.88" r="3.6" fill="url(#gV2)"/>
<circle cx="286.64" cy="118.67" r="3.6" fill="url(#gV2)"/>
<circle cx="306" cy="118.67" r="3.6" fill="url(#gV2)"/>
<circle cx="325.36" cy="118.67" r="3.6" fill="url(#gV2)"/>
<circle cx="344.72" cy="118.67" r="3.6" fill="url(#gV2)"/>
<circle cx="364.08" cy="118.67" r="3.6" fill="url(#gV2)"/>
<circle cx="383.44" cy="118.67" r="3.6" fill="url(#gV2)"/>
<circle cx="402.8" cy="118.67" r="3.6" fill="url(#gV2)"/>
<circle cx="422.16" cy="118.67" r="3.6" fill="url(#gV2)"/>
<circle cx="267.28" cy="118.67" r="3.6" fill="url(#gV2)"/>
<circle cx="276.96" cy="124.46" r="3.6" fill="url(#gV2)"/>
<circle cx="315.68" cy="124.46" r="3.6" fill="url(#gV2)"/>
<circle cx="354.4" cy="124.46" r="3.6" fill="url(#gV2)"/>
<circle cx="393.12" cy="124.46" r="3.6" fill="url(#gV2)"/>
<circle cx="431.84" cy="124.46" r="3.6" fill="url(#gV2)"/>
<circle cx="286.64" cy="130.25" r="3.6" fill="url(#gV2)"/>
<circle cx="306" cy="130.25" r="3.6" fill="url(#gV2)"/>
<circle cx="325.36" cy="130.25" r="3.6" fill="url(#gV2)"/>
<circle cx="344.72" cy="130.25" r="3.6" fill="url(#gV2)"/>
<circle cx="364.08" cy="130.25" r="3.6" fill="url(#gV2)"/>
<circle cx="383.44" cy="130.25" r="3.6" fill="url(#gV2)"/>
<circle cx="402.8" cy="130.25" r="3.6" fill="url(#gV2)"/>
<circle cx="422.16" cy="130.25" r="3.6" fill="url(#gV2)"/>
<circle cx="441.52" cy="130.25" r="3.6" fill="url(#gV2)"/>
<circle cx="296.32" cy="136.04" r="3.6" fill="url(#gV2)"/>
<circle cx="335.04" cy="136.04" r="3.6" fill="url(#gV2)"/>
<circle cx="373.76" cy="136.04" r="3.6" fill="url(#gV2)"/>
<circle cx="412.48" cy="136.04" r="3.6" fill="url(#gV2)"/>
<circle cx="451.2" cy="136.04" r="3.6" fill="url(#gV2)"/>
<circle cx="306" cy="141.83" r="3.6" fill="url(#gV2)"/>
<circle cx="325.36" cy="141.83" r="3.6" fill="url(#gV2)"/>
<circle cx="344.72" cy="141.83" r="3.6" fill="url(#gV2)"/>
<circle cx="364.08" cy="141.83" r="3.6" fill="url(#gV2)"/>
<circle cx="383.44" cy="141.83" r="3.6" fill="url(#gV2)"/>
<circle cx="402.8" cy="141.83" r="3.6" fill="url(#gV2)"/>
<circle cx="422.16" cy="141.83" r="3.6" fill="url(#gV2)"/>
<circle cx="441.52" cy="141.83" r="3.6" fill="url(#gV2)"/>
<path d="M554.96,33.91 L535.6,33.91 L545.28,39.7 Z" fill="#f6c88b" stroke="#f6c88b" stroke-width="1.2" stroke-linejoin="round"/>
<path d="M525.92,51.28 L516.24,57.07 L496.88,57.07 L487.2,51.28 L496.88,45.49 L516.24,45.49 Z" fill="#f6c88b" stroke="#f6c88b" stroke-width="1.2" stroke-linejoin="round"/>
<path d="M525.92,51.28 L516.24,57.07 L535.6,57.07 Z" fill="#f6c88b" stroke="#f6c88b" stroke-width="1.2" stroke-linejoin="round"/>
<path d="M516.24,57.07 L496.88,57.07 L506.56,62.86 Z" fill="#f6c88b" stroke="#f6c88b" stroke-width="1.2" stroke-linejoin="round"/>
<path d="M487.2,51.28 L496.88,45.49 L477.52,45.49 Z" fill="#f6c88b" stroke="#f6c88b" stroke-width="1.2" stroke-linejoin="round"/>
<path d="M496.88,45.49 L516.24,45.49 L506.56,39.7 Z" fill="#f6c88b" stroke="#f6c88b" stroke-width="1.2" stroke-linejoin="round"/>
<path d="M516.24,45.49 L525.92,51.28 L535.6,45.49 Z" fill="#f6c88b" stroke="#f6c88b" stroke-width="1.2" stroke-linejoin="round"/>
<path d="M603.36,51.28 L593.68,57.07 L574.32,57.07 L564.64,51.28 L574.32,45.49 L593.68,45.49 Z" fill="#f6c88b" stroke="#f6c88b" stroke-width="1.2" stroke-linejoin="round"/>
<path d="M603.36,51.28 L593.68,57.07 L613.04,57.07 Z" fill="#f6c88b" stroke="#f6c88b" stroke-width="1.2" stroke-linejoin="round"/>
<path d="M593.68,57.07 L574.32,57.07 L584,62.86 Z" fill="#f6c88b" stroke="#f6c88b" stroke-width="1.2" stroke-linejoin="round"/>
<path d="M574.32,57.07 L564.64,51.28 L554.96,57.07 Z" fill="#f6c88b" stroke="#f6c88b" stroke-width="1.2" stroke-linejoin="round"/>
<path d="M564.64,51.28 L574.32,45.49 L554.96,45.49 Z" fill="#f6c88b" stroke="#f6c88b" stroke-width="1.2" stroke-linejoin="round"/>
<path d="M574.32,45.49 L593.68,45.49 L584,39.7 Z" fill="#f6c88b" stroke="#f6c88b" stroke-width="1.2" stroke-linejoin="round"/>
<path d="M593.68,45.49 L603.36,51.28 L613.04,45.49 Z" fill="#f6c88b" stroke="#f6c88b" stroke-width="1.2" stroke-linejoin="round"/>
<path d="M651.76,57.07 L642.08,51.28 L632.4,57.07 Z" fill="#f6c88b" stroke="#f6c88b" stroke-width="1.2" stroke-linejoin="round"/>
<path d="M564.64,74.44 L554.96,80.23 L535.6,80.23 L525.92,74.44 L535.6,68.65 L554.96,68.65 Z" fill="#f6c88b" stroke="#f6c88b" stroke-width="1.2" stroke-linejoin="round"/>
<path d="M564.64,74.44 L554.96,80.23 L574.32,80.23 Z" fill="#f6c88b" stroke="#f6c88b" stroke-width="1.2" stroke-linejoin="round"/>
<path d="M525.92,74.44 L535.6,68.65 L516.24,68.65 Z" fill="#f6c88b" stroke="#f6c88b" stroke-width="1.2" stroke-linejoin="round"/>
<path d="M535.6,68.65 L554.96,68.65 L545.28,62.86 Z" fill="#f6c88b" stroke="#f6c88b" stroke-width="1.2" stroke-linejoin="round"/>
<path d="M554.96,68.65 L564.64,74.44 L574.32,68.65 Z" fill="#f6c88b" stroke="#f6c88b" stroke-width="1.2" stroke-linejoin="round"/>
<path d="M642.08,74.44 L632.4,80.23 L613.04,80.23 L603.36,74.44 L613.04,68.65 L632.4,68.65 Z" fill="#f6c88b" stroke="#f6c88b" stroke-width="1.2" stroke-linejoin="round"/>
<path d="M642.08,74.44 L632.4,80.23 L651.76,80.23 Z" fill="#f6c88b" stroke="#f6c88b" stroke-width="1.2" stroke-linejoin="round"/>
<path d="M613.04,80.23 L603.36,74.44 L593.68,80.23 Z" fill="#f6c88b" stroke="#f6c88b" stroke-width="1.2" stroke-linejoin="round"/>
<path d="M603.36,74.44 L613.04,68.65 L593.68,68.65 Z" fill="#f6c88b" stroke="#f6c88b" stroke-width="1.2" stroke-linejoin="round"/>
<path d="M613.04,68.65 L632.4,68.65 L622.72,62.86 Z" fill="#f6c88b" stroke="#f6c88b" stroke-width="1.2" stroke-linejoin="round"/>
<path d="M632.4,68.65 L642.08,74.44 L651.76,68.65 Z" fill="#f6c88b" stroke="#f6c88b" stroke-width="1.2" stroke-linejoin="round"/>
<line x1="477.52" y1="33.91" x2="496.88" y2="33.91" stroke="#eba0a0" stroke-width="1.9"/>
<line x1="477.52" y1="33.91" x2="467.84" y2="39.7" stroke="#b85252" stroke-width="1.5"/>
<line x1="554.96" y1="33.91" x2="574.32" y2="33.91" stroke="#eba0a0" stroke-width="1.9"/>
<line x1="554.96" y1="33.91" x2="545.28" y2="39.7" stroke="#b85252" stroke-width="1.5"/>
<line x1="535.6" y1="33.91" x2="545.28" y2="39.7" stroke="#b85252" stroke-width="1.5"/>
<line x1="535.6" y1="33.91" x2="516.24" y2="33.91" stroke="#eba0a0" stroke-width="1.9"/>
<line x1="613.04" y1="33.91" x2="622.72" y2="39.7" stroke="#b85252" stroke-width="1.5"/>
<line x1="613.04" y1="33.91" x2="593.68" y2="33.91" stroke="#eba0a0" stroke-width="1.9"/>
<line x1="525.92" y1="51.28" x2="535.6" y2="57.07" stroke="#b85252" stroke-width="1.5"/>
<line x1="516.24" y1="57.07" x2="535.6" y2="57.07" stroke="#eba0a0" stroke-width="1.9"/>
<line x1="516.24" y1="57.07" x2="506.56" y2="62.86" stroke="#b85252" stroke-width="1.5"/>
<line x1="496.88" y1="57.07" x2="506.56" y2="62.86" stroke="#b85252" stroke-width="1.5"/>
<line x1="487.2" y1="51.28" x2="477.52" y2="45.49" stroke="#b85252" stroke-width="1.5"/>
<line x1="496.88" y1="45.49" x2="477.52" y2="45.49" stroke="#eba0a0" stroke-width="1.9"/>
<line x1="496.88" y1="45.49" x2="506.56" y2="39.7" stroke="#b85252" stroke-width="1.5"/>
<line x1="516.24" y1="45.49" x2="506.56" y2="39.7" stroke="#b85252" stroke-width="1.5"/>
<line x1="516.24" y1="45.49" x2="535.6" y2="45.49" stroke="#eba0a0" stroke-width="1.9"/>
<line x1="525.92" y1="51.28" x2="535.6" y2="45.49" stroke="#b85252" stroke-width="1.5"/>
<line x1="603.36" y1="51.28" x2="613.04" y2="57.07" stroke="#b85252" stroke-width="1.5"/>
<line x1="593.68" y1="57.07" x2="613.04" y2="57.07" stroke="#eba0a0" stroke-width="1.9"/>
<line x1="593.68" y1="57.07" x2="584" y2="62.86" stroke="#b85252" stroke-width="1.5"/>
<line x1="574.32" y1="57.07" x2="584" y2="62.86" stroke="#b85252" stroke-width="1.5"/>
<line x1="574.32" y1="57.07" x2="554.96" y2="57.07" stroke="#eba0a0" stroke-width="1.9"/>
<line x1="564.64" y1="51.28" x2="554.96" y2="57.07" stroke="#b85252" stroke-width="1.5"/>
<line x1="564.64" y1="51.28" x2="554.96" y2="45.49" stroke="#b85252" stroke-width="1.5"/>
<line x1="574.32" y1="45.49" x2="554.96" y2="45.49" stroke="#eba0a0" stroke-width="1.9"/>
<line x1="574.32" y1="45.49" x2="584" y2="39.7" stroke="#b85252" stroke-width="1.5"/>
<line x1="593.68" y1="45.49" x2="584" y2="39.7" stroke="#b85252" stroke-width="1.5"/>
<line x1="593.68" y1="45.49" x2="613.04" y2="45.49" stroke="#eba0a0" stroke-width="1.9"/>
<line x1="603.36" y1="51.28" x2="613.04" y2="45.49" stroke="#b85252" stroke-width="1.5"/>
<line x1="651.76" y1="57.07" x2="661.44" y2="62.86" stroke="#b85252" stroke-width="1.5"/>
<line x1="651.76" y1="57.07" x2="632.4" y2="57.07" stroke="#eba0a0" stroke-width="1.9"/>
<line x1="642.08" y1="51.28" x2="632.4" y2="57.07" stroke="#b85252" stroke-width="1.5"/>
<line x1="642.08" y1="51.28" x2="632.4" y2="45.49" stroke="#b85252" stroke-width="1.5"/>
<line x1="564.64" y1="74.44" x2="574.32" y2="80.23" stroke="#b85252" stroke-width="1.5"/>
<line x1="554.96" y1="80.23" x2="574.32" y2="80.23" stroke="#eba0a0" stroke-width="1.9"/>
<line x1="525.92" y1="74.44" x2="516.24" y2="68.65" stroke="#b85252" stroke-width="1.5"/>
<line x1="535.6" y1="68.65" x2="516.24" y2="68.65" stroke="#eba0a0" stroke-width="1.9"/>
<line x1="535.6" y1="68.65" x2="545.28" y2="62.86" stroke="#b85252" stroke-width="1.5"/>
<line x1="554.96" y1="68.65" x2="545.28" y2="62.86" stroke="#b85252" stroke-width="1.5"/>
<line x1="554.96" y1="68.65" x2="574.32" y2="68.65" stroke="#eba0a0" stroke-width="1.9"/>
<line x1="564.64" y1="74.44" x2="574.32" y2="68.65" stroke="#b85252" stroke-width="1.5"/>
<line x1="642.08" y1="74.44" x2="651.76" y2="80.23" stroke="#b85252" stroke-width="1.5"/>
<line x1="632.4" y1="80.23" x2="651.76" y2="80.23" stroke="#eba0a0" stroke-width="1.9"/>
<line x1="613.04" y1="80.23" x2="593.68" y2="80.23" stroke="#eba0a0" stroke-width="1.9"/>
<line x1="603.36" y1="74.44" x2="593.68" y2="80.23" stroke="#b85252" stroke-width="1.5"/>
<line x1="603.36" y1="74.44" x2="593.68" y2="68.65" stroke="#b85252" stroke-width="1.5"/>
<line x1="613.04" y1="68.65" x2="593.68" y2="68.65" stroke="#eba0a0" stroke-width="1.9"/>
<line x1="613.04" y1="68.65" x2="622.72" y2="62.86" stroke="#b85252" stroke-width="1.5"/>
<line x1="632.4" y1="68.65" x2="622.72" y2="62.86" stroke="#b85252" stroke-width="1.5"/>
<line x1="632.4" y1="68.65" x2="651.76" y2="68.65" stroke="#eba0a0" stroke-width="1.9"/>
<line x1="642.08" y1="74.44" x2="651.76" y2="68.65" stroke="#b85252" stroke-width="1.5"/>
<line x1="680.8" y1="74.44" x2="671.12" y2="80.23" stroke="#b85252" stroke-width="1.5"/>
<line x1="680.8" y1="74.44" x2="671.12" y2="68.65" stroke="#b85252" stroke-width="1.5"/>
<circle cx="477.52" cy="33.91" r="3.6" fill="url(#gV2)"/>
<circle cx="496.88" cy="33.91" r="3.6" fill="url(#gV2)"/>
<circle cx="516.24" cy="33.91" r="3.6" fill="url(#gV2)"/>
<circle cx="535.6" cy="33.91" r="3.6" fill="url(#gV2)"/>
<circle cx="554.96" cy="33.91" r="3.6" fill="url(#gV2)"/>
<circle cx="574.32" cy="33.91" r="3.6" fill="url(#gV2)"/>
<circle cx="593.68" cy="33.91" r="3.6" fill="url(#gV2)"/>
<circle cx="613.04" cy="33.91" r="3.6" fill="url(#gV2)"/>
<circle cx="467.84" cy="39.7" r="3.6" fill="url(#gV2)"/>
<circle cx="506.56" cy="39.7" r="3.6" fill="url(#gV2)"/>
<circle cx="545.28" cy="39.7" r="3.6" fill="url(#gV2)"/>
<circle cx="584" cy="39.7" r="3.6" fill="url(#gV2)"/>
<circle cx="622.72" cy="39.7" r="3.6" fill="url(#gV2)"/>
<circle cx="477.52" cy="45.49" r="3.6" fill="url(#gV2)"/>
<circle cx="496.88" cy="45.49" r="3.6" fill="url(#gV2)"/>
<circle cx="516.24" cy="45.49" r="3.6" fill="url(#gV2)"/>
<circle cx="535.6" cy="45.49" r="3.6" fill="url(#gV2)"/>
<circle cx="554.96" cy="45.49" r="3.6" fill="url(#gV2)"/>
<circle cx="574.32" cy="45.49" r="3.6" fill="url(#gV2)"/>
<circle cx="593.68" cy="45.49" r="3.6" fill="url(#gV2)"/>
<circle cx="613.04" cy="45.49" r="3.6" fill="url(#gV2)"/>
<circle cx="632.4" cy="45.49" r="3.6" fill="url(#gV2)"/>
<circle cx="487.2" cy="51.28" r="3.6" fill="url(#gV2)"/>
<circle cx="525.92" cy="51.28" r="3.6" fill="url(#gV2)"/>
<circle cx="564.64" cy="51.28" r="3.6" fill="url(#gV2)"/>
<circle cx="603.36" cy="51.28" r="3.6" fill="url(#gV2)"/>
<circle cx="642.08" cy="51.28" r="3.6" fill="url(#gV2)"/>
<circle cx="496.88" cy="57.07" r="3.6" fill="url(#gV2)"/>
<circle cx="516.24" cy="57.07" r="3.6" fill="url(#gV2)"/>
<circle cx="535.6" cy="57.07" r="3.6" fill="url(#gV2)"/>
<circle cx="554.96" cy="57.07" r="3.6" fill="url(#gV2)"/>
<circle cx="574.32" cy="57.07" r="3.6" fill="url(#gV2)"/>
<circle cx="593.68" cy="57.07" r="3.6" fill="url(#gV2)"/>
<circle cx="613.04" cy="57.07" r="3.6" fill="url(#gV2)"/>
<circle cx="632.4" cy="57.07" r="3.6" fill="url(#gV2)"/>
<circle cx="651.76" cy="57.07" r="3.6" fill="url(#gV2)"/>
<circle cx="506.56" cy="62.86" r="3.6" fill="url(#gV2)"/>
<circle cx="545.28" cy="62.86" r="3.6" fill="url(#gV2)"/>
<circle cx="584" cy="62.86" r="3.6" fill="url(#gV2)"/>
<circle cx="622.72" cy="62.86" r="3.6" fill="url(#gV2)"/>
<circle cx="661.44" cy="62.86" r="3.6" fill="url(#gV2)"/>
<circle cx="535.6" cy="68.65" r="3.6" fill="url(#gV2)"/>
<circle cx="554.96" cy="68.65" r="3.6" fill="url(#gV2)"/>
<circle cx="574.32" cy="68.65" r="3.6" fill="url(#gV2)"/>
<circle cx="593.68" cy="68.65" r="3.6" fill="url(#gV2)"/>
<circle cx="613.04" cy="68.65" r="3.6" fill="url(#gV2)"/>
<circle cx="632.4" cy="68.65" r="3.6" fill="url(#gV2)"/>
<circle cx="651.76" cy="68.65" r="3.6" fill="url(#gV2)"/>
<circle cx="671.12" cy="68.65" r="3.6" fill="url(#gV2)"/>
<circle cx="516.24" cy="68.65" r="3.6" fill="url(#gV2)"/>
<circle cx="525.92" cy="74.44" r="3.6" fill="url(#gV2)"/>
<circle cx="564.64" cy="74.44" r="3.6" fill="url(#gV2)"/>
<circle cx="603.36" cy="74.44" r="3.6" fill="url(#gV2)"/>
<circle cx="642.08" cy="74.44" r="3.6" fill="url(#gV2)"/>
<circle cx="680.8" cy="74.44" r="3.6" fill="url(#gV2)"/>
<circle cx="535.6" cy="80.23" r="3.6" fill="url(#gV2)"/>
<circle cx="554.96" cy="80.23" r="3.6" fill="url(#gV2)"/>
<circle cx="574.32" cy="80.23" r="3.6" fill="url(#gV2)"/>
<circle cx="593.68" cy="80.23" r="3.6" fill="url(#gV2)"/>
<circle cx="613.04" cy="80.23" r="3.6" fill="url(#gV2)"/>
<circle cx="632.4" cy="80.23" r="3.6" fill="url(#gV2)"/>
<circle cx="651.76" cy="80.23" r="3.6" fill="url(#gV2)"/>
<circle cx="671.12" cy="80.23" r="3.6" fill="url(#gV2)"/>
<path d="M496.88,95.51 L516.24,95.51 L506.56,101.3 Z" fill="#abbfd9" stroke="#abbfd9" stroke-width="1.2" stroke-linejoin="round"/>
<path d="M574.32,95.51 L593.68,95.51 L584,101.3 Z" fill="#abbfd9" stroke="#abbfd9" stroke-width="1.2" stroke-linejoin="round"/>
<path d="M525.92,112.88 L516.24,118.67 L496.88,118.67 L487.2,112.88 L496.88,107.09 L516.24,107.09 Z" fill="#abbfd9" stroke="#abbfd9" stroke-width="1.2" stroke-linejoin="round"/>
<path d="M535.6,107.09 L554.96,107.09 L545.28,101.3 Z" fill="#abbfd9" stroke="#abbfd9" stroke-width="1.2" stroke-linejoin="round"/>
<path d="M535.6,118.67 L554.96,118.67 L545.28,124.46 Z" fill="#abbfd9" stroke="#abbfd9" stroke-width="1.2" stroke-linejoin="round"/>
<path d="M603.36,112.88 L593.68,118.67 L574.32,118.67 L564.64,112.88 L574.32,107.09 L593.68,107.09 Z" fill="#abbfd9" stroke="#abbfd9" stroke-width="1.2" stroke-linejoin="round"/>
<path d="M613.04,107.09 L632.4,107.09 L622.72,101.3 Z" fill="#abbfd9" stroke="#abbfd9" stroke-width="1.2" stroke-linejoin="round"/>
<path d="M613.04,118.67 L632.4,118.67 L622.72,124.46 Z" fill="#abbfd9" stroke="#abbfd9" stroke-width="1.2" stroke-linejoin="round"/>
<path d="M564.64,136.04 L554.96,141.83 L535.6,141.83 L525.92,136.04 L535.6,130.25 L554.96,130.25 Z" fill="#abbfd9" stroke="#abbfd9" stroke-width="1.2" stroke-linejoin="round"/>
<path d="M574.32,130.25 L593.68,130.25 L584,124.46 Z" fill="#abbfd9" stroke="#abbfd9" stroke-width="1.2" stroke-linejoin="round"/>
<path d="M642.08,136.04 L632.4,141.83 L613.04,141.83 L603.36,136.04 L613.04,130.25 L632.4,130.25 Z" fill="#abbfd9" stroke="#abbfd9" stroke-width="1.2" stroke-linejoin="round"/>
<path d="M651.76,130.25 L671.12,130.25 L661.44,124.46 Z" fill="#abbfd9" stroke="#abbfd9" stroke-width="1.2" stroke-linejoin="round"/>
<line x1="496.88" y1="95.51" x2="516.24" y2="95.51" stroke="#eba0a0" stroke-width="1.9"/>
<line x1="516.24" y1="95.51" x2="506.56" y2="101.3" stroke="#b85252" stroke-width="1.5"/>
<line x1="506.56" y1="101.3" x2="496.88" y2="95.51" stroke="#b85252" stroke-width="1.5"/>
<line x1="554.96" y1="95.51" x2="535.6" y2="95.51" stroke="#eba0a0" stroke-width="1.9"/>
<line x1="574.32" y1="95.51" x2="593.68" y2="95.51" stroke="#eba0a0" stroke-width="1.9"/>
<line x1="593.68" y1="95.51" x2="584" y2="101.3" stroke="#b85252" stroke-width="1.5"/>
<line x1="584" y1="101.3" x2="574.32" y2="95.51" stroke="#b85252" stroke-width="1.5"/>
<line x1="477.52" y1="107.09" x2="467.84" y2="101.3" stroke="#b85252" stroke-width="1.5"/>
<line x1="525.92" y1="112.88" x2="516.24" y2="118.67" stroke="#b85252" stroke-width="1.5"/>
<line x1="516.24" y1="118.67" x2="496.88" y2="118.67" stroke="#eba0a0" stroke-width="1.9"/>
<line x1="496.88" y1="118.67" x2="487.2" y2="112.88" stroke="#b85252" stroke-width="1.5"/>
<line x1="487.2" y1="112.88" x2="496.88" y2="107.09" stroke="#b85252" stroke-width="1.5"/>
<line x1="496.88" y1="107.09" x2="516.24" y2="107.09" stroke="#eba0a0" stroke-width="1.9"/>
<line x1="516.24" y1="107.09" x2="525.92" y2="112.88" stroke="#b85252" stroke-width="1.5"/>
<line x1="535.6" y1="107.09" x2="554.96" y2="107.09" stroke="#eba0a0" stroke-width="1.9"/>
<line x1="554.96" y1="107.09" x2="545.28" y2="101.3" stroke="#b85252" stroke-width="1.5"/>
<line x1="545.28" y1="101.3" x2="535.6" y2="107.09" stroke="#b85252" stroke-width="1.5"/>
<line x1="535.6" y1="118.67" x2="554.96" y2="118.67" stroke="#eba0a0" stroke-width="1.9"/>
<line x1="554.96" y1="118.67" x2="545.28" y2="124.46" stroke="#b85252" stroke-width="1.5"/>
<line x1="545.28" y1="124.46" x2="535.6" y2="118.67" stroke="#b85252" stroke-width="1.5"/>
<line x1="603.36" y1="112.88" x2="593.68" y2="118.67" stroke="#b85252" stroke-width="1.5"/>
<line x1="593.68" y1="118.67" x2="574.32" y2="118.67" stroke="#eba0a0" stroke-width="1.9"/>
<line x1="574.32" y1="118.67" x2="564.64" y2="112.88" stroke="#b85252" stroke-width="1.5"/>
<line x1="564.64" y1="112.88" x2="574.32" y2="107.09" stroke="#b85252" stroke-width="1.5"/>
<line x1="574.32" y1="107.09" x2="593.68" y2="107.09" stroke="#eba0a0" stroke-width="1.9"/>
<line x1="593.68" y1="107.09" x2="603.36" y2="112.88" stroke="#b85252" stroke-width="1.5"/>
<line x1="613.04" y1="107.09" x2="632.4" y2="107.09" stroke="#eba0a0" stroke-width="1.9"/>
<line x1="632.4" y1="107.09" x2="622.72" y2="101.3" stroke="#b85252" stroke-width="1.5"/>
<line x1="622.72" y1="101.3" x2="613.04" y2="107.09" stroke="#b85252" stroke-width="1.5"/>
<line x1="613.04" y1="118.67" x2="632.4" y2="118.67" stroke="#eba0a0" stroke-width="1.9"/>
<line x1="632.4" y1="118.67" x2="622.72" y2="124.46" stroke="#b85252" stroke-width="1.5"/>
<line x1="622.72" y1="124.46" x2="613.04" y2="118.67" stroke="#b85252" stroke-width="1.5"/>
<line x1="651.76" y1="118.67" x2="642.08" y2="112.88" stroke="#b85252" stroke-width="1.5"/>
<line x1="516.24" y1="130.25" x2="506.56" y2="124.46" stroke="#b85252" stroke-width="1.5"/>
<line x1="564.64" y1="136.04" x2="554.96" y2="141.83" stroke="#b85252" stroke-width="1.5"/>
<line x1="554.96" y1="141.83" x2="535.6" y2="141.83" stroke="#eba0a0" stroke-width="1.9"/>
<line x1="535.6" y1="141.83" x2="525.92" y2="136.04" stroke="#b85252" stroke-width="1.5"/>
<line x1="525.92" y1="136.04" x2="535.6" y2="130.25" stroke="#b85252" stroke-width="1.5"/>
<line x1="535.6" y1="130.25" x2="554.96" y2="130.25" stroke="#eba0a0" stroke-width="1.9"/>
<line x1="554.96" y1="130.25" x2="564.64" y2="136.04" stroke="#b85252" stroke-width="1.5"/>
<line x1="574.32" y1="130.25" x2="593.68" y2="130.25" stroke="#eba0a0" stroke-width="1.9"/>
<line x1="593.68" y1="130.25" x2="584" y2="124.46" stroke="#b85252" stroke-width="1.5"/>
<line x1="584" y1="124.46" x2="574.32" y2="130.25" stroke="#b85252" stroke-width="1.5"/>
<line x1="574.32" y1="141.83" x2="593.68" y2="141.83" stroke="#eba0a0" stroke-width="1.9"/>
<line x1="642.08" y1="136.04" x2="632.4" y2="141.83" stroke="#b85252" stroke-width="1.5"/>
<line x1="632.4" y1="141.83" x2="613.04" y2="141.83" stroke="#eba0a0" stroke-width="1.9"/>
<line x1="613.04" y1="141.83" x2="603.36" y2="136.04" stroke="#b85252" stroke-width="1.5"/>
<line x1="603.36" y1="136.04" x2="613.04" y2="130.25" stroke="#b85252" stroke-width="1.5"/>
<line x1="613.04" y1="130.25" x2="632.4" y2="130.25" stroke="#eba0a0" stroke-width="1.9"/>
<line x1="632.4" y1="130.25" x2="642.08" y2="136.04" stroke="#b85252" stroke-width="1.5"/>
<line x1="651.76" y1="130.25" x2="671.12" y2="130.25" stroke="#eba0a0" stroke-width="1.9"/>
<line x1="671.12" y1="130.25" x2="661.44" y2="124.46" stroke="#b85252" stroke-width="1.5"/>
<line x1="661.44" y1="124.46" x2="651.76" y2="130.25" stroke="#b85252" stroke-width="1.5"/>
<line x1="651.76" y1="141.83" x2="671.12" y2="141.83" stroke="#eba0a0" stroke-width="1.9"/>
<circle cx="477.52" cy="95.51" r="3.6" fill="url(#gV2)"/>
<circle cx="496.88" cy="95.51" r="3.6" fill="url(#gV2)"/>
<circle cx="516.24" cy="95.51" r="3.6" fill="url(#gV2)"/>
<circle cx="535.6" cy="95.51" r="3.6" fill="url(#gV2)"/>
<circle cx="554.96" cy="95.51" r="3.6" fill="url(#gV2)"/>
<circle cx="574.32" cy="95.51" r="3.6" fill="url(#gV2)"/>
<circle cx="593.68" cy="95.51" r="3.6" fill="url(#gV2)"/>
<circle cx="613.04" cy="95.51" r="3.6" fill="url(#gV2)"/>
<circle cx="467.84" cy="101.3" r="3.6" fill="url(#gV2)"/>
<circle cx="506.56" cy="101.3" r="3.6" fill="url(#gV2)"/>
<circle cx="545.28" cy="101.3" r="3.6" fill="url(#gV2)"/>
<circle cx="584" cy="101.3" r="3.6" fill="url(#gV2)"/>
<circle cx="622.72" cy="101.3" r="3.6" fill="url(#gV2)"/>
<circle cx="496.88" cy="107.09" r="3.6" fill="url(#gV2)"/>
<circle cx="516.24" cy="107.09" r="3.6" fill="url(#gV2)"/>
<circle cx="535.6" cy="107.09" r="3.6" fill="url(#gV2)"/>
<circle cx="554.96" cy="107.09" r="3.6" fill="url(#gV2)"/>
<circle cx="574.32" cy="107.09" r="3.6" fill="url(#gV2)"/>
<circle cx="593.68" cy="107.09" r="3.6" fill="url(#gV2)"/>
<circle cx="613.04" cy="107.09" r="3.6" fill="url(#gV2)"/>
<circle cx="632.4" cy="107.09" r="3.6" fill="url(#gV2)"/>
<circle cx="477.52" cy="107.09" r="3.6" fill="url(#gV2)"/>
<circle cx="487.2" cy="112.88" r="3.6" fill="url(#gV2)"/>
<circle cx="525.92" cy="112.88" r="3.6" fill="url(#gV2)"/>
<circle cx="564.64" cy="112.88" r="3.6" fill="url(#gV2)"/>
<circle cx="603.36" cy="112.88" r="3.6" fill="url(#gV2)"/>
<circle cx="642.08" cy="112.88" r="3.6" fill="url(#gV2)"/>
<circle cx="516.24" cy="118.67" r="3.6" fill="url(#gV2)"/>
<circle cx="535.6" cy="118.67" r="3.6" fill="url(#gV2)"/>
<circle cx="554.96" cy="118.67" r="3.6" fill="url(#gV2)"/>
<circle cx="574.32" cy="118.67" r="3.6" fill="url(#gV2)"/>
<circle cx="593.68" cy="118.67" r="3.6" fill="url(#gV2)"/>
<circle cx="613.04" cy="118.67" r="3.6" fill="url(#gV2)"/>
<circle cx="632.4" cy="118.67" r="3.6" fill="url(#gV2)"/>
<circle cx="651.76" cy="118.67" r="3.6" fill="url(#gV2)"/>
<circle cx="496.88" cy="118.67" r="3.6" fill="url(#gV2)"/>
<circle cx="506.56" cy="124.46" r="3.6" fill="url(#gV2)"/>
<circle cx="545.28" cy="124.46" r="3.6" fill="url(#gV2)"/>
<circle cx="584" cy="124.46" r="3.6" fill="url(#gV2)"/>
<circle cx="622.72" cy="124.46" r="3.6" fill="url(#gV2)"/>
<circle cx="661.44" cy="124.46" r="3.6" fill="url(#gV2)"/>
<circle cx="516.24" cy="130.25" r="3.6" fill="url(#gV2)"/>
<circle cx="535.6" cy="130.25" r="3.6" fill="url(#gV2)"/>
<circle cx="554.96" cy="130.25" r="3.6" fill="url(#gV2)"/>
<circle cx="574.32" cy="130.25" r="3.6" fill="url(#gV2)"/>
<circle cx="593.68" cy="130.25" r="3.6" fill="url(#gV2)"/>
<circle cx="613.04" cy="130.25" r="3.6" fill="url(#gV2)"/>
<circle cx="632.4" cy="130.25" r="3.6" fill="url(#gV2)"/>
<circle cx="651.76" cy="130.25" r="3.6" fill="url(#gV2)"/>
<circle cx="671.12" cy="130.25" r="3.6" fill="url(#gV2)"/>
<circle cx="525.92" cy="136.04" r="3.6" fill="url(#gV2)"/>
<circle cx="564.64" cy="136.04" r="3.6" fill="url(#gV2)"/>
<circle cx="603.36" cy="136.04" r="3.6" fill="url(#gV2)"/>
<circle cx="642.08" cy="136.04" r="3.6" fill="url(#gV2)"/>
<circle cx="680.8" cy="136.04" r="3.6" fill="url(#gV2)"/>
<circle cx="535.6" cy="141.83" r="3.6" fill="url(#gV2)"/>
<circle cx="554.96" cy="141.83" r="3.6" fill="url(#gV2)"/>
<circle cx="574.32" cy="141.83" r="3.6" fill="url(#gV2)"/>
<circle cx="593.68" cy="141.83" r="3.6" fill="url(#gV2)"/>
<circle cx="613.04" cy="141.83" r="3.6" fill="url(#gV2)"/>
<circle cx="632.4" cy="141.83" r="3.6" fill="url(#gV2)"/>
<circle cx="651.76" cy="141.83" r="3.6" fill="url(#gV2)"/>
<circle cx="671.12" cy="141.83" r="3.6" fill="url(#gV2)"/>
<text x="301.6" y="15.8" font-size="15.9">TrH-TrH</text>
<text x="531" y="15.8" font-size="15.9">TrH-SoD</text>
<rect x="55.8" y="188.5" width="202.1" height="202" fill="none" stroke="#222" stroke-width="1.3"/>
<line x1="89.48" y1="390.5" x2="89.48" y2="384.5" stroke="#222" stroke-width="1.3" />
<line x1="89.48" y1="188.5" x2="89.48" y2="194.5" stroke="#222" stroke-width="1.3" />
<line x1="123.16" y1="390.5" x2="123.16" y2="384.5" stroke="#222" stroke-width="1.3" />
<line x1="123.16" y1="188.5" x2="123.16" y2="194.5" stroke="#222" stroke-width="1.3" />
<line x1="156.84" y1="390.5" x2="156.84" y2="384.5" stroke="#222" stroke-width="1.3" />
<line x1="156.84" y1="188.5" x2="156.84" y2="194.5" stroke="#222" stroke-width="1.3" />
<line x1="190.52" y1="390.5" x2="190.52" y2="384.5" stroke="#222" stroke-width="1.3" />
<line x1="190.52" y1="188.5" x2="190.52" y2="194.5" stroke="#222" stroke-width="1.3" />
<line x1="224.2" y1="390.5" x2="224.2" y2="384.5" stroke="#222" stroke-width="1.3" />
<line x1="224.2" y1="188.5" x2="224.2" y2="194.5" stroke="#222" stroke-width="1.3" />
<line x1="55.8" y1="353.7" x2="61.8" y2="353.7" stroke="#222" stroke-width="1.3" />
<line x1="257.9" y1="353.7" x2="251.9" y2="353.7" stroke="#222" stroke-width="1.3" />
<line x1="55.8" y1="316.9" x2="61.8" y2="316.9" stroke="#222" stroke-width="1.3" />
<line x1="257.9" y1="316.9" x2="251.9" y2="316.9" stroke="#222" stroke-width="1.3" />
<line x1="55.8" y1="280.1" x2="61.8" y2="280.1" stroke="#222" stroke-width="1.3" />
<line x1="257.9" y1="280.1" x2="251.9" y2="280.1" stroke="#222" stroke-width="1.3" />
<line x1="55.8" y1="243.3" x2="61.8" y2="243.3" stroke="#222" stroke-width="1.3" />
<line x1="257.9" y1="243.3" x2="251.9" y2="243.3" stroke="#222" stroke-width="1.3" />
<line x1="55.8" y1="206.5" x2="61.8" y2="206.5" stroke="#222" stroke-width="1.3" />
<line x1="257.9" y1="206.5" x2="251.9" y2="206.5" stroke="#222" stroke-width="1.3" />
<path d="M67.59,390.5 L68.06,390.48 L68.54,390.47 L69.02,390.45 L69.5,390.44 L69.97,390.42 L70.45,390.41 L70.93,390.39 L71.4,390.37 L71.88,390.36 L72.36,390.34 L72.83,390.32 L73.31,390.3 L73.79,390.28 L74.26,390.27 L74.74,390.25 L75.22,390.23 L75.7,390.21 L76.17,390.19 L76.65,390.17 L77.13,390.15 L77.6,390.13 L78.08,390.11 L78.56,390.09 L79.03,390.07 L79.51,390.05 L79.99,390.03 L80.46,390.01 L80.94,389.99 L81.42,389.96 L81.9,389.94 L82.37,389.92 L82.85,389.9 L83.33,389.88 L83.8,389.85 L84.28,389.83 L84.76,389.81 L85.23,389.79 L85.71,389.76 L86.19,389.74 L86.66,389.72 L87.14,389.7 L87.62,389.67 L88.1,389.65 L88.57,389.63 L89.05,389.6 L89.53,389.58 L90,389.55 L90.48,389.53 L90.96,389.51 L91.43,389.48 L91.91,389.46 L92.39,389.43 L92.86,389.41 L93.34,389.38 L93.82,389.36 L94.3,389.33 L94.77,389.3 L95.25,389.28 L95.73,389.25 L96.2,389.22 L96.68,389.2 L97.16,389.17 L97.63,389.14 L98.11,389.11 L98.59,389.08 L99.06,389.05 L99.54,389.01 L100.02,388.98 L100.5,388.95 L100.97,388.92 L101.45,388.88 L101.93,388.85 L102.4,388.81 L102.88,388.77 L103.36,388.73 L103.83,388.7 L104.31,388.66 L104.79,388.62 L105.26,388.58 L105.74,388.53 L106.22,388.49 L106.7,388.45 L107.17,388.41 L107.65,388.36 L108.13,388.32 L108.6,388.27 L109.08,388.22 L109.56,388.18 L110.03,388.13 L110.51,388.08 L110.99,388.03 L111.46,387.98 L111.94,387.93 L112.42,387.87 L112.9,387.82 L113.37,387.76 L113.85,387.71 L114.33,387.65 L114.8,387.6 L115.28,387.54 L115.76,387.48 L116.23,387.42 L116.71,387.36 L117.19,387.3 L117.66,387.24 L118.14,387.17 L118.62,387.11 L119.1,387.04 L119.57,386.98 L120.05,386.91 L120.53,386.84 L121,386.78 L121.48,386.71 L121.96,386.63 L122.43,386.56 L122.91,386.49 L123.39,386.42 L123.86,386.34 L124.34,386.26 L124.82,386.18 L125.3,386.09 L125.77,386.01 L126.25,385.91 L126.73,385.82 L127.2,385.72 L127.68,385.62 L128.16,385.52 L128.63,385.42 L129.11,385.31 L129.59,385.2 L130.06,385.08 L130.54,384.97 L131.02,384.85 L131.5,384.72 L131.97,384.6 L132.45,384.47 L132.93,384.34 L133.4,384.2 L133.88,384.06 L134.36,383.92 L134.83,383.77 L135.31,383.61 L135.79,383.44 L136.26,383.27 L136.74,383.09 L137.22,382.9 L137.7,382.71 L138.17,382.51 L138.65,382.3 L139.13,382.08 L139.6,381.86 L140.08,381.63 L140.56,381.39 L141.03,381.13 L141.51,380.86 L141.99,380.57 L142.46,380.27 L142.94,379.96 L143.42,379.62 L143.9,379.27 L144.37,378.91 L144.85,378.52 L145.33,378.12 L145.8,377.7 L146.28,377.25 L146.76,376.77 L147.23,376.26 L147.71,375.73 L148.19,375.15 L148.66,374.55 L149.14,373.9 L149.62,373.21 L150.1,372.48 L150.57,371.68 L151.05,370.8 L151.53,369.81 L152,368.73 L152.48,367.55 L152.96,366.26 L153.43,364.86 L153.91,363.25 L154.39,361.34 L154.86,359.19 L155.34,356.87 L155.82,354.42 L156.3,351.93 L156.77,349.45 L157.25,346.94 L157.73,344.32 L158.2,341.59 L158.68,338.8 L159.16,335.97 L159.63,333.14 L160.11,330.34 L160.59,327.57 L161.06,324.75 L161.54,321.9 L162.02,319.05 L162.5,316.19 L162.97,313.35 L163.45,310.54 L163.93,307.77 L164.4,305.06 L164.88,302.41 L165.36,299.85 L165.83,297.35 L166.31,294.91 L166.79,292.5 L167.26,290.12 L167.74,287.74 L168.22,285.37 L168.7,283 L169.17,280.64 L169.65,278.28 L170.13,275.94 L170.6,273.6 L171.08,271.28 L171.56,268.96 L172.03,266.65 L172.51,264.36 L172.99,262.08 L173.46,259.82 L173.94,257.57 L174.42,255.33 L174.9,253.11 L175.37,250.91 L175.85,248.73 L176.33,246.57 L176.8,244.42 L177.28,242.3 L177.76,240.2 L178.23,238.04 L178.71,235.79 L179.19,233.52 L179.66,231.29 L180.14,229.17 L180.62,227.22 L181.1,225.51 L181.57,224.08 L182.05,222.96 L182.53,221.9 L183,220.88 L183.48,219.9 L183.96,218.97 L184.43,218.08 L184.91,217.24 L185.39,216.44 L185.86,215.69 L186.34,214.98 L186.82,214.32 L187.3,213.71 L187.77,213.15 L188.25,212.64 L188.73,212.18 L189.2,211.77 L189.68,211.42 L190.16,211.12 L190.63,210.84 L191.11,210.58 L191.59,210.33 L192.06,210.08 L192.54,209.84 L193.02,209.61 L193.5,209.39 L193.97,209.17 L194.45,208.97 L194.93,208.79 L195.4,208.61 L195.88,208.44 L196.36,208.29 L196.83,208.15 L197.31,208.03 L197.79,207.92 L198.26,207.82 L198.74,207.74 L199.22,207.68 L199.7,207.64 L200.17,207.61 L200.65,207.59 L201.13,207.58 L201.6,207.56 L202.08,207.55 L202.56,207.53 L203.03,207.52 L203.51,207.51 L203.99,207.49 L204.46,207.48 L204.94,207.47 L205.42,207.45 L205.9,207.44 L206.37,207.43 L206.85,207.42 L207.33,207.4 L207.8,207.39 L208.28,207.38 L208.76,207.37 L209.23,207.36 L209.71,207.34 L210.19,207.33 L210.66,207.32 L211.14,207.31 L211.62,207.3 L212.1,207.29 L212.57,207.28 L213.05,207.27 L213.53,207.26 L214,207.25 L214.48,207.24 L214.96,207.23 L215.43,207.22 L215.91,207.21 L216.39,207.2 L216.86,207.19 L217.34,207.18 L217.82,207.17 L218.3,207.17 L218.77,207.16 L219.25,207.15 L219.73,207.14 L220.2,207.13 L220.68,207.12 L221.16,207.12 L221.63,207.11 L222.11,207.1 L222.59,207.09 L223.06,207.09 L223.54,207.08 L224.02,207.07 L224.5,207.07 L224.97,207.06 L225.45,207.05 L225.93,207.05 L226.4,207.04 L226.88,207.04 L227.36,207.03 L227.83,207.02 L228.31,207.02 L228.79,207.01 L229.26,207.01 L229.74,207 L230.22,207 L230.7,206.99 L231.17,206.99 L231.65,206.98 L232.13,206.98 L232.6,206.97 L233.08,206.97 L233.56,206.96 L234.03,206.96 L234.51,206.96 L234.99,206.95 L235.46,206.95 L235.94,206.94 L236.42,206.94 L236.9,206.94 L237.37,206.93 L237.85,206.93 L238.33,206.93 L238.8,206.92 L239.28,206.92 L239.76,206.92 L240.23,206.91 L240.71,206.91 L241.19,206.91 L241.66,206.91 L242.14,206.9 L242.62,206.9 L243.1,206.9 L243.57,206.9 L244.05,206.9 L244.53,206.89 L245,206.89 L245.48,206.89 L245.96,206.89 L246.43,206.89 L246.91,206.88 L247.39,206.88 L247.86,206.88 L248.34,206.88 L248.82,206.88 L249.3,206.88 L249.77,206.88 L250.25,206.88 L250.73,206.87 L251.2,206.87 L251.68,206.87 L252.16,206.87 L252.63,206.87 L253.11,206.87 L253.59,206.87 L254.06,206.87 L254.54,206.87 L255.02,206.87 L255.5,206.87 L255.97,206.87 L256.45,206.87 L256.93,206.87 L257.4,206.87 L257.88,206.87" fill="none" stroke="#009600" stroke-width="4.0" stroke-linejoin="round" stroke-linecap="round" />
<circle cx="55.8" cy="390.5" r="1.85" fill="#0000ff"/>
<circle cx="56.54" cy="390.5" r="1.85" fill="#0000ff"/>
<circle cx="57.28" cy="390.49" r="1.85" fill="#0000ff"/>
<circle cx="58.02" cy="390.48" r="1.85" fill="#0000ff"/>
<circle cx="58.76" cy="390.47" r="1.85" fill="#0000ff"/>
<circle cx="59.5" cy="390.46" r="1.85" fill="#0000ff"/>
<circle cx="60.25" cy="390.44" r="1.85" fill="#0000ff"/>
<circle cx="60.99" cy="390.41" r="1.85" fill="#0000ff"/>
<circle cx="61.73" cy="390.39" r="1.85" fill="#0000ff"/>
<circle cx="62.47" cy="390.36" r="1.85" fill="#0000ff"/>
<circle cx="63.21" cy="390.33" r="1.85" fill="#0000ff"/>
<circle cx="63.95" cy="390.29" r="1.85" fill="#0000ff"/>
<circle cx="64.69" cy="390.25" r="1.85" fill="#0000ff"/>
<circle cx="65.43" cy="390.21" r="1.85" fill="#0000ff"/>
<circle cx="66.17" cy="390.17" r="1.85" fill="#0000ff"/>
<circle cx="66.91" cy="390.12" r="1.85" fill="#0000ff"/>
<circle cx="67.66" cy="390.07" r="1.85" fill="#0000ff"/>
<circle cx="68.4" cy="390.02" r="1.85" fill="#0000ff"/>
<circle cx="69.14" cy="389.96" r="1.85" fill="#0000ff"/>
<circle cx="69.88" cy="389.89" r="1.85" fill="#0000ff"/>
<circle cx="70.62" cy="389.79" r="1.85" fill="#0000ff"/>
<circle cx="71.36" cy="389.66" r="1.85" fill="#0000ff"/>
<circle cx="72.1" cy="389.48" r="1.85" fill="#0000ff"/>
<circle cx="72.84" cy="389.26" r="1.85" fill="#0000ff"/>
<circle cx="73.58" cy="388.99" r="1.85" fill="#0000ff"/>
<circle cx="74.14" cy="388.75" r="1.85" fill="#0000ff"/>
<circle cx="74.69" cy="388.42" r="1.85" fill="#0000ff"/>
<circle cx="75.25" cy="387.82" r="1.85" fill="#0000ff"/>
<circle cx="75.62" cy="387.26" r="1.85" fill="#0000ff"/>
<circle cx="75.99" cy="386.58" r="1.85" fill="#0000ff"/>
<circle cx="76.36" cy="385.77" r="1.85" fill="#0000ff"/>
<circle cx="76.73" cy="384.84" r="1.85" fill="#0000ff"/>
<circle cx="76.92" cy="384.19" r="1.85" fill="#0000ff"/>
<circle cx="77.1" cy="383.34" r="1.85" fill="#0000ff"/>
<circle cx="77.29" cy="382.3" r="1.85" fill="#0000ff"/>
<circle cx="77.47" cy="381.09" r="1.85" fill="#0000ff"/>
<circle cx="77.66" cy="379.72" r="1.85" fill="#0000ff"/>
<circle cx="77.84" cy="377.95" r="1.85" fill="#0000ff"/>
<circle cx="78.03" cy="375.47" r="1.85" fill="#0000ff"/>
<circle cx="78.21" cy="372.63" r="1.85" fill="#0000ff"/>
<circle cx="78.4" cy="369.82" r="1.85" fill="#0000ff"/>
<circle cx="78.58" cy="367.36" r="1.85" fill="#0000ff"/>
<circle cx="78.77" cy="365.22" r="1.85" fill="#0000ff"/>
<circle cx="78.95" cy="363.28" r="1.85" fill="#0000ff"/>
<circle cx="79.14" cy="361.39" r="1.85" fill="#0000ff"/>
<circle cx="79.33" cy="359.43" r="1.85" fill="#0000ff"/>
<circle cx="79.51" cy="357.27" r="1.85" fill="#0000ff"/>
<circle cx="79.7" cy="354.79" r="1.85" fill="#0000ff"/>
<circle cx="79.88" cy="351.86" r="1.85" fill="#0000ff"/>
<circle cx="80.07" cy="348.22" r="1.85" fill="#0000ff"/>
<circle cx="80.25" cy="343.06" r="1.85" fill="#0000ff"/>
<circle cx="80.44" cy="336.63" r="1.85" fill="#0000ff"/>
<circle cx="80.62" cy="329.36" r="1.85" fill="#0000ff"/>
<circle cx="80.81" cy="321.71" r="1.85" fill="#0000ff"/>
<circle cx="80.99" cy="312.97" r="1.85" fill="#0000ff"/>
<circle cx="81.18" cy="303.08" r="1.85" fill="#0000ff"/>
<circle cx="81.36" cy="292.94" r="1.85" fill="#0000ff"/>
<circle cx="81.55" cy="282.33" r="1.85" fill="#0000ff"/>
<circle cx="81.73" cy="271.29" r="1.85" fill="#0000ff"/>
<circle cx="81.92" cy="262.97" r="1.85" fill="#0000ff"/>
<circle cx="82.1" cy="257.45" r="1.85" fill="#0000ff"/>
<circle cx="82.29" cy="253.03" r="1.85" fill="#0000ff"/>
<circle cx="82.47" cy="249.14" r="1.85" fill="#0000ff"/>
<circle cx="82.66" cy="245.23" r="1.85" fill="#0000ff"/>
<circle cx="82.85" cy="240.75" r="1.85" fill="#0000ff"/>
<circle cx="83.03" cy="235.63" r="1.85" fill="#0000ff"/>
<circle cx="83.22" cy="230.54" r="1.85" fill="#0000ff"/>
<circle cx="83.4" cy="226.23" r="1.85" fill="#0000ff"/>
<circle cx="83.59" cy="223.43" r="1.85" fill="#0000ff"/>
<circle cx="83.77" cy="221.74" r="1.85" fill="#0000ff"/>
<circle cx="83.96" cy="220.26" r="1.85" fill="#0000ff"/>
<circle cx="84.14" cy="218.98" r="1.85" fill="#0000ff"/>
<circle cx="84.33" cy="217.88" r="1.85" fill="#0000ff"/>
<circle cx="84.51" cy="216.94" r="1.85" fill="#0000ff"/>
<circle cx="84.7" cy="216.14" r="1.85" fill="#0000ff"/>
<circle cx="84.88" cy="215.46" r="1.85" fill="#0000ff"/>
<circle cx="85.07" cy="214.88" r="1.85" fill="#0000ff"/>
<circle cx="85.44" cy="213.91" r="1.85" fill="#0000ff"/>
<circle cx="85.81" cy="213.13" r="1.85" fill="#0000ff"/>
<circle cx="86.18" cy="212.48" r="1.85" fill="#0000ff"/>
<circle cx="86.55" cy="211.91" r="1.85" fill="#0000ff"/>
<circle cx="86.92" cy="211.39" r="1.85" fill="#0000ff"/>
<circle cx="87.29" cy="210.86" r="1.85" fill="#0000ff"/>
<circle cx="87.66" cy="210.32" r="1.85" fill="#0000ff"/>
<circle cx="88.03" cy="209.81" r="1.85" fill="#0000ff"/>
<circle cx="88.4" cy="209.33" r="1.85" fill="#0000ff"/>
<circle cx="88.96" cy="208.72" r="1.85" fill="#0000ff"/>
<circle cx="89.51" cy="208.32" r="1.85" fill="#0000ff"/>
<circle cx="90.07" cy="208.04" r="1.85" fill="#0000ff"/>
<circle cx="90.63" cy="207.79" r="1.85" fill="#0000ff"/>
<circle cx="91.37" cy="207.52" r="1.85" fill="#0000ff"/>
<circle cx="92.11" cy="207.33" r="1.85" fill="#0000ff"/>
<circle cx="92.85" cy="207.24" r="1.85" fill="#0000ff"/>
<circle cx="93.59" cy="207.2" r="1.85" fill="#0000ff"/>
<circle cx="94.33" cy="207.17" r="1.85" fill="#0000ff"/>
<circle cx="95.07" cy="207.14" r="1.85" fill="#0000ff"/>
<circle cx="95.81" cy="207.11" r="1.85" fill="#0000ff"/>
<circle cx="96.55" cy="207.08" r="1.85" fill="#0000ff"/>
<circle cx="97.29" cy="207.06" r="1.85" fill="#0000ff"/>
<circle cx="98.03" cy="207.03" r="1.85" fill="#0000ff"/>
<circle cx="98.78" cy="207" r="1.85" fill="#0000ff"/>
<circle cx="99.52" cy="206.98" r="1.85" fill="#0000ff"/>
<circle cx="100.26" cy="206.95" r="1.85" fill="#0000ff"/>
<circle cx="101" cy="206.93" r="1.85" fill="#0000ff"/>
<circle cx="101.74" cy="206.91" r="1.85" fill="#0000ff"/>
<circle cx="102.48" cy="206.89" r="1.85" fill="#0000ff"/>
<circle cx="103.22" cy="206.87" r="1.85" fill="#0000ff"/>
<circle cx="103.96" cy="206.85" r="1.85" fill="#0000ff"/>
<circle cx="104.7" cy="206.83" r="1.85" fill="#0000ff"/>
<circle cx="105.44" cy="206.81" r="1.85" fill="#0000ff"/>
<circle cx="106.19" cy="206.79" r="1.85" fill="#0000ff"/>
<circle cx="106.93" cy="206.77" r="1.85" fill="#0000ff"/>
<circle cx="107.67" cy="206.75" r="1.85" fill="#0000ff"/>
<circle cx="108.41" cy="206.74" r="1.85" fill="#0000ff"/>
<circle cx="109.15" cy="206.72" r="1.85" fill="#0000ff"/>
<circle cx="109.89" cy="206.71" r="1.85" fill="#0000ff"/>
<circle cx="110.63" cy="206.69" r="1.85" fill="#0000ff"/>
<circle cx="111.37" cy="206.68" r="1.85" fill="#0000ff"/>
<circle cx="112.11" cy="206.67" r="1.85" fill="#0000ff"/>
<circle cx="112.85" cy="206.65" r="1.85" fill="#0000ff"/>
<circle cx="113.59" cy="206.64" r="1.85" fill="#0000ff"/>
<circle cx="114.34" cy="206.63" r="1.85" fill="#0000ff"/>
<circle cx="115.08" cy="206.62" r="1.85" fill="#0000ff"/>
<circle cx="115.82" cy="206.61" r="1.85" fill="#0000ff"/>
<circle cx="116.56" cy="206.6" r="1.85" fill="#0000ff"/>
<circle cx="117.3" cy="206.59" r="1.85" fill="#0000ff"/>
<circle cx="118.04" cy="206.58" r="1.85" fill="#0000ff"/>
<circle cx="118.78" cy="206.58" r="1.85" fill="#0000ff"/>
<circle cx="119.52" cy="206.57" r="1.85" fill="#0000ff"/>
<circle cx="120.26" cy="206.56" r="1.85" fill="#0000ff"/>
<circle cx="121" cy="206.55" r="1.85" fill="#0000ff"/>
<circle cx="121.75" cy="206.55" r="1.85" fill="#0000ff"/>
<circle cx="122.49" cy="206.54" r="1.85" fill="#0000ff"/>
<circle cx="123.23" cy="206.54" r="1.85" fill="#0000ff"/>
<circle cx="123.97" cy="206.53" r="1.85" fill="#0000ff"/>
<circle cx="124.71" cy="206.53" r="1.85" fill="#0000ff"/>
<circle cx="125.45" cy="206.52" r="1.85" fill="#0000ff"/>
<circle cx="126.19" cy="206.52" r="1.85" fill="#0000ff"/>
<circle cx="126.93" cy="206.52" r="1.85" fill="#0000ff"/>
<circle cx="127.67" cy="206.51" r="1.85" fill="#0000ff"/>
<circle cx="128.41" cy="206.51" r="1.85" fill="#0000ff"/>
<circle cx="129.16" cy="206.51" r="1.85" fill="#0000ff"/>
<circle cx="129.9" cy="206.51" r="1.85" fill="#0000ff"/>
<circle cx="130.64" cy="206.51" r="1.85" fill="#0000ff"/>
<circle cx="131.38" cy="206.5" r="1.85" fill="#0000ff"/>
<circle cx="132.12" cy="206.5" r="1.85" fill="#0000ff"/>
<circle cx="132.86" cy="206.5" r="1.85" fill="#0000ff"/>
<circle cx="133.6" cy="206.5" r="1.85" fill="#0000ff"/>
<circle cx="134.34" cy="206.5" r="1.85" fill="#0000ff"/>
<circle cx="135.08" cy="206.5" r="1.85" fill="#0000ff"/>
<path d="M55.8,390.5 L56.14,390.5 L56.48,390.5 L56.81,390.5 L57.15,390.49 L57.49,390.49 L57.83,390.49 L58.17,390.48 L58.5,390.48 L58.84,390.47 L59.18,390.46 L59.52,390.46 L59.86,390.45 L60.19,390.44 L60.53,390.43 L60.87,390.42 L61.21,390.41 L61.54,390.4 L61.88,390.38 L62.22,390.37 L62.56,390.36 L62.9,390.34 L63.23,390.33 L63.57,390.31 L63.91,390.29 L64.25,390.28 L64.59,390.26 L64.92,390.24 L65.26,390.22 L65.6,390.2 L65.94,390.18 L66.28,390.16 L66.61,390.14 L66.95,390.12 L67.29,390.09 L67.63,390.07 L67.97,390.05 L68.3,390.02 L68.64,390 L68.98,389.97 L69.32,389.94 L69.65,389.91 L69.99,389.87 L70.33,389.83 L70.67,389.78 L71.01,389.72 L71.34,389.65 L71.68,389.57 L72.02,389.48 L72.36,389.39 L72.7,389.29 L73.03,389.17 L73.37,389.05 L73.71,388.92 L74.05,388.78 L74.39,388.63 L74.72,388.42 L75.06,388.12 L75.4,387.75 L75.74,387.32 L76.08,386.84 L76.41,386.33 L76.75,385.78 L77.09,385.16 L77.43,384.42 L77.77,383.59 L78.1,382.67 L78.44,381.67 L78.78,380.59 L79.12,379.45 L79.45,378.25 L79.79,376.84 L80.13,375.22 L80.47,373.45 L80.81,371.61 L81.14,369.76 L81.48,367.98 L81.82,366.26 L82.16,364.57 L82.5,362.87 L82.83,361.13 L83.17,359.31 L83.51,357.38 L83.85,355.31 L84.19,353.04 L84.52,350.49 L84.86,347.67 L85.2,344.62 L85.54,341.4 L85.88,338.06 L86.21,334.66 L86.55,331.25 L86.89,327.87 L87.23,324.59 L87.57,321.45 L87.9,318.39 L88.24,315.37 L88.58,312.37 L88.92,309.37 L89.25,306.35 L89.59,303.29 L89.93,300.17 L90.27,296.97 L90.61,293.67 L90.94,290.22 L91.28,286.65 L91.62,282.99 L91.96,279.3 L92.3,275.62 L92.63,271.99 L92.97,268.46 L93.31,265.05 L93.65,261.61 L93.99,258.14 L94.32,254.68 L94.66,251.29 L95,248 L95.34,244.87 L95.68,241.93 L96.01,239.25 L96.35,236.84 L96.69,234.5 L97.03,232.21 L97.36,229.97 L97.7,227.83 L98.04,225.8 L98.38,223.9 L98.72,222.15 L99.05,220.59 L99.39,219.22 L99.73,218.08 L100.07,217.16 L100.41,216.3 L100.74,215.48 L101.08,214.69 L101.42,213.94 L101.76,213.23 L102.1,212.55 L102.43,211.93 L102.77,211.34 L103.11,210.81 L103.45,210.33 L103.79,209.9 L104.12,209.53 L104.46,209.22 L104.8,208.97 L105.14,208.78 L105.48,208.65 L105.81,208.53 L106.15,208.42 L106.49,208.31 L106.83,208.21 L107.16,208.11 L107.5,208.01 L107.84,207.92 L108.18,207.83 L108.52,207.75 L108.85,207.67 L109.19,207.6 L109.53,207.52 L109.87,207.46 L110.21,207.39 L110.54,207.33 L110.88,207.28 L111.22,207.22 L111.56,207.17 L111.9,207.13 L112.23,207.09 L112.57,207.05 L112.91,207.01 L113.25,206.98 L113.59,206.96 L113.92,206.93 L114.26,206.91 L114.6,206.89 L114.94,206.88 L115.28,206.87 L115.61,206.86 L115.95,206.86 L116.29,206.85 L116.63,206.84 L116.96,206.84 L117.3,206.83 L117.64,206.82 L117.98,206.82 L118.32,206.81 L118.65,206.8 L118.99,206.8 L119.33,206.79 L119.67,206.79 L120.01,206.78 L120.34,206.77 L120.68,206.77 L121.02,206.76 L121.36,206.76 L121.7,206.75 L122.03,206.75 L122.37,206.74 L122.71,206.73 L123.05,206.73 L123.39,206.72 L123.72,206.72 L124.06,206.71 L124.4,206.71 L124.74,206.7 L125.07,206.7 L125.41,206.69 L125.75,206.69 L126.09,206.69 L126.43,206.68 L126.76,206.68 L127.1,206.67 L127.44,206.67 L127.78,206.66 L128.12,206.66 L128.45,206.65 L128.79,206.65 L129.13,206.65 L129.47,206.64 L129.81,206.64 L130.14,206.63 L130.48,206.63 L130.82,206.63 L131.16,206.62 L131.5,206.62 L131.83,206.62 L132.17,206.61 L132.51,206.61 L132.85,206.61 L133.19,206.6 L133.52,206.6 L133.86,206.6 L134.2,206.59 L134.54,206.59 L134.87,206.59 L135.21,206.58 L135.55,206.58 L135.89,206.58 L136.23,206.58 L136.56,206.57 L136.9,206.57 L137.24,206.57 L137.58,206.57 L137.92,206.56 L138.25,206.56 L138.59,206.56 L138.93,206.56 L139.27,206.55 L139.61,206.55 L139.94,206.55 L140.28,206.55 L140.62,206.54 L140.96,206.54 L141.3,206.54 L141.63,206.54 L141.97,206.54 L142.31,206.54 L142.65,206.53 L142.99,206.53 L143.32,206.53 L143.66,206.53 L144,206.53 L144.34,206.53 L144.67,206.52 L145.01,206.52 L145.35,206.52 L145.69,206.52 L146.03,206.52 L146.36,206.52 L146.7,206.52 L147.04,206.52 L147.38,206.51 L147.72,206.51 L148.05,206.51 L148.39,206.51 L148.73,206.51 L149.07,206.51 L149.41,206.51 L149.74,206.51 L150.08,206.51 L150.42,206.51 L150.76,206.51 L151.1,206.51 L151.43,206.5 L151.77,206.5 L152.11,206.5 L152.45,206.5 L152.78,206.5 L153.12,206.5 L153.46,206.5 L153.8,206.5 L154.14,206.5 L154.47,206.5 L154.81,206.5 L155.15,206.5 L155.49,206.5 L155.83,206.5 L156.16,206.5 L156.5,206.5 L156.84,206.5" fill="none" stroke="#ff0000" stroke-width="3.7" stroke-linejoin="round" stroke-linecap="round" />
<text x="55.8" y="410.9" font-size="17.5" text-anchor="middle">0</text>
<text x="89.48" y="410.9" font-size="17.5" text-anchor="middle">1</text>
<text x="123.16" y="410.9" font-size="17.5" text-anchor="middle">2</text>
<text x="156.84" y="410.9" font-size="17.5" text-anchor="middle">3</text>
<text x="190.52" y="410.9" font-size="17.5" text-anchor="middle">4</text>
<text x="224.2" y="410.9" font-size="17.5" text-anchor="middle">5</text>
<text x="257.88" y="410.9" font-size="17.5" text-anchor="middle">6</text>
<text x="51.9" y="396.35" font-size="17.5" text-anchor="end">0</text>
<text x="51.9" y="359.55" font-size="17.5" text-anchor="end">0.2</text>
<text x="51.9" y="322.75" font-size="17.5" text-anchor="end">0.4</text>
<text x="51.9" y="285.95" font-size="17.5" text-anchor="end">0.6</text>
<text x="51.9" y="249.15" font-size="17.5" text-anchor="end">0.8</text>
<text x="51.9" y="212.35" font-size="17.5" text-anchor="end">1.0</text>
<text x="157.5" y="433.2" font-size="17.5" text-anchor="middle"><tspan font-style="italic">T</tspan> (K)</text>
<text x="0" y="0" font-size="17.5" text-anchor="middle" transform="translate(13.6,287.5) rotate(-90)">Normalized frequency shift</text>
<circle cx="172.7" cy="326.4" r="4.7" fill="#ff0000"/>
<text x="191" y="330.4" font-size="13.2">KV<tspan font-size="9.3" dy="3.3">3</tspan><tspan dy="-3.3">Sb</tspan><tspan font-size="9.3" dy="3.3">5</tspan></text>
<circle cx="172.7" cy="344" r="4.7" fill="#0000ff"/>
<text x="191" y="348" font-size="13.2">RbV<tspan font-size="9.3" dy="3.3">3</tspan><tspan dy="-3.3">Sb</tspan><tspan font-size="9.3" dy="3.3">5</tspan></text>
<circle cx="172.7" cy="361.4" r="4.7" fill="#009600"/>
<text x="191" y="365.4" font-size="13.2">CsV<tspan font-size="9.3" dy="3.3">3</tspan><tspan dy="-3.3">Sb</tspan><tspan font-size="9.3" dy="3.3">5</tspan></text>
<text x="176.8" y="379.8" font-size="10.7">(Roppongi <tspan font-style="italic">et al.</tspan>)</text>
<clipPath id="ce"><rect x="55.5" y="454.4" width="202.3" height="202"/></clipPath>
<rect x="55.5" y="454.4" width="202.3" height="202" fill="none" stroke="#222" stroke-width="1.3"/>
<line x1="95.96" y1="656.4" x2="95.96" y2="649.9" stroke="#222" stroke-width="1.3" />
<line x1="95.96" y1="454.4" x2="95.96" y2="460.9" stroke="#222" stroke-width="1.3" />
<line x1="136.42" y1="656.4" x2="136.42" y2="649.9" stroke="#222" stroke-width="1.3" />
<line x1="136.42" y1="454.4" x2="136.42" y2="460.9" stroke="#222" stroke-width="1.3" />
<line x1="176.88" y1="656.4" x2="176.88" y2="649.9" stroke="#222" stroke-width="1.3" />
<line x1="176.88" y1="454.4" x2="176.88" y2="460.9" stroke="#222" stroke-width="1.3" />
<line x1="217.34" y1="656.4" x2="217.34" y2="649.9" stroke="#222" stroke-width="1.3" />
<line x1="217.34" y1="454.4" x2="217.34" y2="460.9" stroke="#222" stroke-width="1.3" />
<line x1="55.5" y1="653" x2="62.2" y2="653" stroke="#222" stroke-width="1.3" />
<line x1="257.8" y1="653" x2="251.1" y2="653" stroke="#222" stroke-width="1.3" />
<line x1="55.5" y1="634.91" x2="59.3" y2="634.91" stroke="#222" stroke-width="1.3" />
<line x1="257.8" y1="634.91" x2="254" y2="634.91" stroke="#222" stroke-width="1.3" />
<line x1="55.5" y1="616.82" x2="62.2" y2="616.82" stroke="#222" stroke-width="1.3" />
<line x1="257.8" y1="616.82" x2="251.1" y2="616.82" stroke="#222" stroke-width="1.3" />
<line x1="55.5" y1="598.73" x2="59.3" y2="598.73" stroke="#222" stroke-width="1.3" />
<line x1="257.8" y1="598.73" x2="254" y2="598.73" stroke="#222" stroke-width="1.3" />
<line x1="55.5" y1="580.64" x2="62.2" y2="580.64" stroke="#222" stroke-width="1.3" />
<line x1="257.8" y1="580.64" x2="251.1" y2="580.64" stroke="#222" stroke-width="1.3" />
<line x1="55.5" y1="562.55" x2="59.3" y2="562.55" stroke="#222" stroke-width="1.3" />
<line x1="257.8" y1="562.55" x2="254" y2="562.55" stroke="#222" stroke-width="1.3" />
<line x1="55.5" y1="544.46" x2="62.2" y2="544.46" stroke="#222" stroke-width="1.3" />
<line x1="257.8" y1="544.46" x2="251.1" y2="544.46" stroke="#222" stroke-width="1.3" />
<line x1="55.5" y1="526.37" x2="59.3" y2="526.37" stroke="#222" stroke-width="1.3" />
<line x1="257.8" y1="526.37" x2="254" y2="526.37" stroke="#222" stroke-width="1.3" />
<line x1="55.5" y1="508.28" x2="62.2" y2="508.28" stroke="#222" stroke-width="1.3" />
<line x1="257.8" y1="508.28" x2="251.1" y2="508.28" stroke="#222" stroke-width="1.3" />
<line x1="55.5" y1="490.19" x2="59.3" y2="490.19" stroke="#222" stroke-width="1.3" />
<line x1="257.8" y1="490.19" x2="254" y2="490.19" stroke="#222" stroke-width="1.3" />
<line x1="55.5" y1="472.1" x2="62.2" y2="472.1" stroke="#222" stroke-width="1.3" />
<line x1="257.8" y1="472.1" x2="251.1" y2="472.1" stroke="#222" stroke-width="1.3" />
<g fill="#009600">
<circle cx="61.57" cy="651.27" r="2.9"/>
<circle cx="62.46" cy="652.03" r="2.9"/>
<circle cx="63.35" cy="652.06" r="2.9"/>
<circle cx="64.24" cy="653.28" r="2.9"/>
<circle cx="65.13" cy="651.93" r="2.9"/>
<circle cx="66.02" cy="651.8" r="2.9"/>
<circle cx="66.91" cy="651.43" r="2.9"/>
<circle cx="67.8" cy="651.65" r="2.9"/>
<circle cx="68.69" cy="651.06" r="2.9"/>
<circle cx="69.58" cy="651.21" r="2.9"/>
<circle cx="70.47" cy="651.67" r="2.9"/>
<circle cx="71.36" cy="649.93" r="2.9"/>
<circle cx="72.25" cy="649.79" r="2.9"/>
<circle cx="73.14" cy="649.05" r="2.9"/>
<circle cx="74.03" cy="650.12" r="2.9"/>
<circle cx="74.92" cy="650.32" r="2.9"/>
<circle cx="75.81" cy="650.3" r="2.9"/>
<circle cx="76.7" cy="650.9" r="2.9"/>
<circle cx="77.59" cy="648.95" r="2.9"/>
<circle cx="78.48" cy="650.35" r="2.9"/>
<circle cx="79.37" cy="650.3" r="2.9"/>
<circle cx="80.26" cy="649.48" r="2.9"/>
<circle cx="81.15" cy="648.15" r="2.9"/>
<circle cx="82.04" cy="648.95" r="2.9"/>
<circle cx="82.93" cy="649.76" r="2.9"/>
<circle cx="83.82" cy="649.43" r="2.9"/>
<circle cx="84.71" cy="648.37" r="2.9"/>
<circle cx="85.6" cy="648.84" r="2.9"/>
<circle cx="86.49" cy="649.18" r="2.9"/>
<circle cx="87.38" cy="648.69" r="2.9"/>
<circle cx="88.27" cy="647.89" r="2.9"/>
<circle cx="89.16" cy="646.9" r="2.9"/>
<circle cx="90.05" cy="649.13" r="2.9"/>
<circle cx="90.94" cy="648.59" r="2.9"/>
<circle cx="91.83" cy="648.61" r="2.9"/>
<circle cx="92.72" cy="649.68" r="2.9"/>
<circle cx="93.61" cy="648.5" r="2.9"/>
<circle cx="94.5" cy="648.47" r="2.9"/>
<circle cx="95.39" cy="646.81" r="2.9"/>
<circle cx="96.28" cy="647.61" r="2.9"/>
<circle cx="97.17" cy="648.57" r="2.9"/>
<circle cx="98.06" cy="646.82" r="2.9"/>
<circle cx="98.95" cy="647.43" r="2.9"/>
<circle cx="99.84" cy="648.31" r="2.9"/>
<circle cx="100.73" cy="647.36" r="2.9"/>
<circle cx="101.62" cy="647.22" r="2.9"/>
<circle cx="102.51" cy="647.3" r="2.9"/>
<circle cx="103.4" cy="646.51" r="2.9"/>
<circle cx="104.29" cy="648.02" r="2.9"/>
<circle cx="105.18" cy="646.44" r="2.9"/>
<circle cx="106.08" cy="645.37" r="2.9"/>
<circle cx="106.97" cy="645.33" r="2.9"/>
<circle cx="107.86" cy="644.99" r="2.9"/>
<circle cx="108.75" cy="644.81" r="2.9"/>
<circle cx="109.64" cy="644.38" r="2.9"/>
<circle cx="110.53" cy="646.09" r="2.9"/>
<circle cx="111.42" cy="644.49" r="2.9"/>
<circle cx="112.31" cy="646.26" r="2.9"/>
<circle cx="113.2" cy="645.15" r="2.9"/>
<circle cx="114.09" cy="645.9" r="2.9"/>
<circle cx="114.98" cy="643.55" r="2.9"/>
<circle cx="115.87" cy="643.13" r="2.9"/>
<circle cx="116.76" cy="644.01" r="2.9"/>
<circle cx="117.65" cy="642.36" r="2.9"/>
<circle cx="118.54" cy="643.89" r="2.9"/>
<circle cx="119.43" cy="643.05" r="2.9"/>
<circle cx="120.32" cy="642.8" r="2.9"/>
<circle cx="121.21" cy="643.42" r="2.9"/>
<circle cx="122.1" cy="642.07" r="2.9"/>
<circle cx="122.99" cy="640.7" r="2.9"/>
<circle cx="123.88" cy="642.56" r="2.9"/>
<circle cx="124.77" cy="640.88" r="2.9"/>
<circle cx="125.66" cy="641.34" r="2.9"/>
<circle cx="126.55" cy="639.63" r="2.9"/>
<circle cx="127.44" cy="640.24" r="2.9"/>
<circle cx="128.33" cy="639.78" r="2.9"/>
<circle cx="129.22" cy="639.46" r="2.9"/>
<circle cx="130.11" cy="639.4" r="2.9"/>
<circle cx="131" cy="640.23" r="2.9"/>
<circle cx="131.89" cy="637.85" r="2.9"/>
<circle cx="132.78" cy="639.47" r="2.9"/>
<circle cx="133.67" cy="637.91" r="2.9"/>
<circle cx="134.56" cy="637.24" r="2.9"/>
<circle cx="135.45" cy="637.89" r="2.9"/>
<circle cx="136.34" cy="636.76" r="2.9"/>
<circle cx="137.23" cy="635.59" r="2.9"/>
<circle cx="138.12" cy="636.01" r="2.9"/>
<circle cx="139.01" cy="636.18" r="2.9"/>
<circle cx="139.9" cy="637.19" r="2.9"/>
<circle cx="140.79" cy="635.31" r="2.9"/>
<circle cx="141.68" cy="634.55" r="2.9"/>
<circle cx="142.57" cy="634" r="2.9"/>
<circle cx="143.46" cy="633.82" r="2.9"/>
<circle cx="144.35" cy="632.33" r="2.9"/>
<circle cx="145.24" cy="632.49" r="2.9"/>
<circle cx="146.13" cy="631.61" r="2.9"/>
<circle cx="147.02" cy="630.49" r="2.9"/>
<circle cx="147.91" cy="631.04" r="2.9"/>
<circle cx="148.8" cy="630.06" r="2.9"/>
<circle cx="149.69" cy="627.69" r="2.9"/>
<circle cx="150.58" cy="628.02" r="2.9"/>
<circle cx="151.47" cy="628.98" r="2.9"/>
<circle cx="152.36" cy="627.48" r="2.9"/>
<circle cx="153.25" cy="626.37" r="2.9"/>
<circle cx="154.14" cy="625.24" r="2.9"/>
<circle cx="155.03" cy="625.37" r="2.9"/>
<circle cx="155.92" cy="625.18" r="2.9"/>
<circle cx="156.81" cy="624.64" r="2.9"/>
<circle cx="157.7" cy="622.95" r="2.9"/>
<circle cx="158.59" cy="622.48" r="2.9"/>
<circle cx="159.48" cy="622.36" r="2.9"/>
<circle cx="160.37" cy="621.38" r="2.9"/>
<circle cx="161.26" cy="620.8" r="2.9"/>
<circle cx="162.15" cy="619.21" r="2.9"/>
<circle cx="163.04" cy="619.46" r="2.9"/>
<circle cx="163.93" cy="617.82" r="2.9"/>
<circle cx="164.82" cy="616.76" r="2.9"/>
<circle cx="165.71" cy="616.21" r="2.9"/>
<circle cx="166.6" cy="616.34" r="2.9"/>
<circle cx="167.49" cy="613.93" r="2.9"/>
<circle cx="168.38" cy="614.54" r="2.9"/>
<circle cx="169.27" cy="612.88" r="2.9"/>
<circle cx="170.16" cy="612.85" r="2.9"/>
<circle cx="171.05" cy="612.68" r="2.9"/>
<circle cx="171.94" cy="610.35" r="2.9"/>
<circle cx="172.83" cy="609.39" r="2.9"/>
<circle cx="173.72" cy="608.72" r="2.9"/>
<circle cx="174.61" cy="607.53" r="2.9"/>
<circle cx="175.5" cy="607.24" r="2.9"/>
<circle cx="176.39" cy="606.34" r="2.9"/>
<circle cx="177.28" cy="604.94" r="2.9"/>
<circle cx="178.17" cy="602.45" r="2.9"/>
<circle cx="179.06" cy="602.23" r="2.9"/>
<circle cx="179.95" cy="602.18" r="2.9"/>
<circle cx="180.85" cy="600.36" r="2.9"/>
<circle cx="181.74" cy="600.07" r="2.9"/>
<circle cx="182.63" cy="598.99" r="2.9"/>
<circle cx="183.52" cy="596.97" r="2.9"/>
<circle cx="184.41" cy="596.89" r="2.9"/>
<circle cx="185.3" cy="596.62" r="2.9"/>
<circle cx="186.19" cy="594.95" r="2.9"/>
<circle cx="187.08" cy="593.11" r="2.9"/>
<circle cx="187.97" cy="591.95" r="2.9"/>
<circle cx="188.86" cy="589.99" r="2.9"/>
<circle cx="189.75" cy="590.25" r="2.9"/>
<circle cx="190.64" cy="588.03" r="2.9"/>
<circle cx="191.53" cy="587.06" r="2.9"/>
<circle cx="192.42" cy="586.28" r="2.9"/>
<circle cx="193.31" cy="584.36" r="2.9"/>
<circle cx="194.2" cy="583.38" r="2.9"/>
<circle cx="195.09" cy="583.13" r="2.9"/>
<circle cx="195.98" cy="580.48" r="2.9"/>
<circle cx="196.87" cy="580.88" r="2.9"/>
<circle cx="197.76" cy="578.68" r="2.9"/>
<circle cx="198.65" cy="577.44" r="2.9"/>
<circle cx="199.54" cy="575.84" r="2.9"/>
<circle cx="200.43" cy="575.36" r="2.9"/>
<circle cx="201.32" cy="573.54" r="2.9"/>
<circle cx="202.21" cy="572.29" r="2.9"/>
<circle cx="203.1" cy="570.12" r="2.9"/>
<circle cx="203.99" cy="570.07" r="2.9"/>
<circle cx="204.88" cy="568.07" r="2.9"/>
<circle cx="205.77" cy="566.94" r="2.9"/>
<circle cx="206.66" cy="566.3" r="2.9"/>
<circle cx="207.55" cy="562.02" r="2.9"/>
<circle cx="208.44" cy="562.6" r="2.9"/>
<circle cx="209.33" cy="562.2" r="2.9"/>
<circle cx="210.22" cy="558.68" r="2.9"/>
<circle cx="211.11" cy="559.03" r="2.9"/>
<circle cx="212" cy="556.53" r="2.9"/>
<circle cx="212.89" cy="554.71" r="2.9"/>
<circle cx="213.78" cy="554.33" r="2.9"/>
<circle cx="214.67" cy="552.69" r="2.9"/>
<circle cx="215.56" cy="551.28" r="2.9"/>
<circle cx="216.45" cy="549.47" r="2.9"/>
<circle cx="217.34" cy="549.04" r="2.9"/>
<circle cx="218.23" cy="547.24" r="2.9"/>
<circle cx="219.12" cy="544.91" r="2.9"/>
<circle cx="220.01" cy="542.52" r="2.9"/>
<circle cx="220.9" cy="541.26" r="2.9"/>
<circle cx="221.79" cy="538.9" r="2.9"/>
<circle cx="222.68" cy="538.08" r="2.9"/>
<circle cx="223.57" cy="537.38" r="2.9"/>
<circle cx="224.46" cy="535.51" r="2.9"/>
<circle cx="225.35" cy="535.29" r="2.9"/>
<circle cx="226.24" cy="532.91" r="2.9"/>
<circle cx="227.13" cy="531.34" r="2.9"/>
<circle cx="228.02" cy="528.79" r="2.9"/>
<circle cx="228.91" cy="526.89" r="2.9"/>
<circle cx="229.8" cy="526.13" r="2.9"/>
<circle cx="230.69" cy="524.5" r="2.9"/>
<circle cx="231.58" cy="523.55" r="2.9"/>
<circle cx="232.47" cy="520.86" r="2.9"/>
<circle cx="233.36" cy="518.92" r="2.9"/>
<circle cx="234.25" cy="517.11" r="2.9"/>
<circle cx="235.14" cy="516.32" r="2.9"/>
<circle cx="236.03" cy="512.63" r="2.9"/>
<circle cx="236.92" cy="511.51" r="2.9"/>
<circle cx="237.81" cy="510.75" r="2.9"/>
<circle cx="238.7" cy="509.36" r="2.9"/>
<circle cx="239.59" cy="507.5" r="2.9"/>
<circle cx="240.48" cy="505.44" r="2.9"/>
<circle cx="241.37" cy="503.85" r="2.9"/>
<circle cx="242.26" cy="501.76" r="2.9"/>
<circle cx="243.15" cy="499.83" r="2.9"/>
<circle cx="244.04" cy="497.66" r="2.9"/>
<circle cx="244.93" cy="496.08" r="2.9"/>
<circle cx="245.82" cy="495.25" r="2.9"/>
<circle cx="246.71" cy="493.14" r="2.9"/>
<circle cx="247.6" cy="491.95" r="2.9"/>
<circle cx="248.49" cy="490.34" r="2.9"/>
<circle cx="249.38" cy="486.78" r="2.9"/>
<circle cx="250.27" cy="486.74" r="2.9"/>
<circle cx="251.16" cy="483.2" r="2.9"/>
<circle cx="252.05" cy="483.13" r="2.9"/>
<circle cx="252.94" cy="480.93" r="2.9"/>
<circle cx="253.83" cy="478.55" r="2.9"/>
<circle cx="254.73" cy="477.55" r="2.9"/>
<circle cx="255.62" cy="475.51" r="2.9"/>
<circle cx="256.51" cy="474.2" r="2.9"/>
<circle cx="257.4" cy="472.59" r="2.9"/>
</g>
<g fill="#4848ff">
<circle cx="257.31" cy="473.45" r="2.8"/>
<circle cx="254.24" cy="482.04" r="2.8"/>
<circle cx="251.16" cy="490.72" r="2.8"/>
<circle cx="248.09" cy="499.46" r="2.8"/>
<circle cx="245.01" cy="508.21" r="2.8"/>
<circle cx="241.94" cy="516.92" r="2.8"/>
<circle cx="238.86" cy="525.65" r="2.8"/>
<circle cx="235.79" cy="534.45" r="2.8"/>
<circle cx="232.71" cy="542.23" r="2.8"/>
<circle cx="229.64" cy="549.39" r="2.8"/>
<circle cx="226.56" cy="556.11" r="2.8"/>
<circle cx="223.49" cy="562.47" r="2.8"/>
<circle cx="220.41" cy="568.65" r="2.8"/>
<circle cx="217.34" cy="574.68" r="2.8"/>
<circle cx="214.27" cy="580.37" r="2.8"/>
<circle cx="211.19" cy="585.54" r="2.8"/>
<circle cx="208.12" cy="590" r="2.8"/>
<circle cx="205.04" cy="593.87" r="2.8"/>
<circle cx="201.97" cy="597.36" r="2.8"/>
<circle cx="198.89" cy="600.61" r="2.8"/>
<circle cx="195.82" cy="603.78" r="2.8"/>
<circle cx="192.74" cy="607.02" r="2.8"/>
<circle cx="189.67" cy="610.3" r="2.8"/>
<circle cx="186.59" cy="613.52" r="2.8"/>
<circle cx="183.52" cy="616.65" r="2.8"/>
<circle cx="180.44" cy="619.64" r="2.8"/>
<circle cx="177.37" cy="622.46" r="2.8"/>
<circle cx="174.29" cy="625.24" r="2.8"/>
<circle cx="171.22" cy="627.95" r="2.8"/>
<circle cx="168.14" cy="630.53" r="2.8"/>
<circle cx="165.07" cy="632.95" r="2.8"/>
<circle cx="161.99" cy="635.15" r="2.8"/>
<circle cx="158.92" cy="637.09" r="2.8"/>
<circle cx="155.84" cy="638.83" r="2.8"/>
<circle cx="152.77" cy="640.42" r="2.8"/>
<circle cx="149.69" cy="641.93" r="2.8"/>
<circle cx="146.62" cy="643.42" r="2.8"/>
<circle cx="143.54" cy="644.95" r="2.8"/>
<circle cx="140.47" cy="646.44" r="2.8"/>
<circle cx="137.39" cy="647.79" r="2.8"/>
<circle cx="134.32" cy="648.92" r="2.8"/>
<circle cx="131.24" cy="649.85" r="2.8"/>
<circle cx="128.17" cy="650.67" r="2.8"/>
<circle cx="125.09" cy="651.26" r="2.8"/>
<circle cx="122.02" cy="651.62" r="2.8"/>
<circle cx="118.94" cy="651.9" r="2.8"/>
<circle cx="115.87" cy="652.12" r="2.8"/>
<circle cx="112.79" cy="652.27" r="2.8"/>
<circle cx="109.72" cy="652.37" r="2.8"/>
<circle cx="106.64" cy="652.45" r="2.8"/>
<circle cx="103.57" cy="652.52" r="2.8"/>
<circle cx="100.49" cy="652.58" r="2.8"/>
<circle cx="97.42" cy="652.65" r="2.8"/>
<circle cx="94.34" cy="652.73" r="2.8"/>
<circle cx="91.27" cy="652.81" r="2.8"/>
<circle cx="88.19" cy="652.89" r="2.8"/>
<circle cx="85.12" cy="652.97" r="2.8"/>
</g>
<g fill="#ff0000">
<circle cx="256.3" cy="480.96" r="2.8"/>
<circle cx="253.23" cy="490.49" r="2.8"/>
<circle cx="250.15" cy="499.26" r="2.8"/>
<circle cx="247.08" cy="507.56" r="2.8"/>
<circle cx="244" cy="515.74" r="2.8"/>
<circle cx="240.93" cy="523.56" r="2.8"/>
<circle cx="237.85" cy="530.75" r="2.8"/>
<circle cx="234.78" cy="537.68" r="2.8"/>
<circle cx="231.7" cy="544.67" r="2.8"/>
<circle cx="228.63" cy="551.36" r="2.8"/>
<circle cx="225.55" cy="557.54" r="2.8"/>
<circle cx="222.48" cy="563.55" r="2.8"/>
<circle cx="219.4" cy="569.53" r="2.8"/>
<circle cx="216.33" cy="575.12" r="2.8"/>
<circle cx="213.25" cy="580.33" r="2.8"/>
<circle cx="210.18" cy="585.08" r="2.8"/>
<circle cx="207.1" cy="589.44" r="2.8"/>
<circle cx="204.03" cy="593.31" r="2.8"/>
<circle cx="200.95" cy="596.77" r="2.8"/>
<circle cx="197.88" cy="600.04" r="2.8"/>
<circle cx="194.8" cy="603.1" r="2.8"/>
<circle cx="191.73" cy="606.21" r="2.8"/>
<circle cx="188.65" cy="609.36" r="2.8"/>
<circle cx="185.58" cy="612.5" r="2.8"/>
<circle cx="182.5" cy="615.64" r="2.8"/>
<circle cx="179.43" cy="618.75" r="2.8"/>
<circle cx="176.35" cy="621.79" r="2.8"/>
<circle cx="173.28" cy="624.77" r="2.8"/>
<circle cx="170.2" cy="627.64" r="2.8"/>
<circle cx="167.13" cy="630.29" r="2.8"/>
<circle cx="164.05" cy="632.45" r="2.8"/>
<circle cx="160.98" cy="634.37" r="2.8"/>
<circle cx="157.9" cy="636.26" r="2.8"/>
<circle cx="154.83" cy="638.02" r="2.8"/>
<circle cx="151.75" cy="639.56" r="2.8"/>
<circle cx="148.68" cy="640.98" r="2.8"/>
<circle cx="145.6" cy="642.46" r="2.8"/>
<circle cx="142.53" cy="643.96" r="2.8"/>
<circle cx="139.45" cy="645.46" r="2.8"/>
<circle cx="136.38" cy="646.97" r="2.8"/>
<circle cx="133.3" cy="648.17" r="2.8"/>
<circle cx="130.23" cy="649.13" r="2.8"/>
<circle cx="127.15" cy="649.94" r="2.8"/>
<circle cx="124.08" cy="650.5" r="2.8"/>
<circle cx="121" cy="650.88" r="2.8"/>
<circle cx="117.93" cy="651.2" r="2.8"/>
<circle cx="114.85" cy="651.43" r="2.8"/>
<circle cx="111.78" cy="651.58" r="2.8"/>
<circle cx="108.7" cy="651.7" r="2.8"/>
<circle cx="105.63" cy="651.8" r="2.8"/>
<circle cx="102.55" cy="651.87" r="2.8"/>
<circle cx="99.48" cy="651.91" r="2.8"/>
<circle cx="96.41" cy="651.85" r="2.8"/>
<circle cx="93.33" cy="651.43" r="2.8"/>
<circle cx="90.26" cy="650.89" r="2.8"/>
<circle cx="87.18" cy="650.38" r="2.8"/>
<circle cx="84.11" cy="649.8" r="2.8"/>
</g>
<g clip-path="url(#ce)">
<path d="M55.5,653 L56.86,652.99 L58.22,652.98 L59.57,652.97 L60.93,652.96 L62.29,652.95 L63.65,652.93 L65,652.92 L66.36,652.9 L67.72,652.89 L69.08,652.87 L70.43,652.86 L71.79,652.84 L73.15,652.82 L74.51,652.8 L75.87,652.78 L77.22,652.77 L78.58,652.75 L79.94,652.73 L81.3,652.71 L82.65,652.68 L84.01,652.66 L85.37,652.64 L86.73,652.62 L88.09,652.59 L89.44,652.56 L90.8,652.54 L92.16,652.51 L93.52,652.48 L94.87,652.45 L96.23,652.41 L97.59,652.38 L98.95,652.34 L100.3,652.3 L101.66,652.26 L103.02,652.21 L104.38,652.16 L105.74,652.11 L107.09,652.06 L108.45,652 L109.81,651.94 L111.17,651.87 L112.52,651.81 L113.88,651.74 L115.24,651.67 L116.6,651.6 L117.96,651.52 L119.31,651.44 L120.67,651.34 L122.03,651.23 L123.39,651.1 L124.74,650.95 L126.1,650.74 L127.46,650.45 L128.82,650.11 L130.17,649.72 L131.53,649.3 L132.89,648.85 L134.25,648.39 L135.61,647.86 L136.96,647.24 L138.32,646.57 L139.68,645.89 L141.04,645.21 L142.39,644.56 L143.75,643.91 L145.11,643.25 L146.47,642.58 L147.82,641.93 L149.18,641.29 L150.54,640.67 L151.9,640.04 L153.26,639.38 L154.61,638.68 L155.97,637.93 L157.33,637.14 L158.69,636.32 L160.04,635.49 L161.4,634.67 L162.76,633.86 L164.12,633.03 L165.48,632.17 L166.83,631.24 L168.19,630.2 L169.55,629.05 L170.91,627.84 L172.26,626.63 L173.62,625.42 L174.98,624.18 L176.34,622.93 L177.69,621.66 L179.05,620.38 L180.41,619.09 L181.77,617.77 L183.13,616.44 L184.48,615.11 L185.84,613.82 L187.2,612.56 L188.56,611.33 L189.91,610.12 L191.27,608.92 L192.63,607.72 L193.99,606.52 L195.34,605.33 L196.7,604.15 L198.06,602.97 L199.42,601.8 L200.78,600.63 L202.13,599.46 L203.49,598.29 L204.85,597.12 L206.21,595.94 L207.56,594.77 L208.92,593.59 L210.28,592.4 L211.64,591.23 L213,590.05 L214.35,588.88 L215.71,587.7 L217.07,586.53 L218.43,585.34 L219.78,584.15 L221.14,582.95 L222.5,581.74 L223.86,580.51 L225.21,579.27 L226.57,578.01 L227.93,576.75 L229.29,575.47 L230.65,574.18 L232,572.88 L233.36,571.57 L234.72,570.25 L236.08,568.93 L237.43,567.59 L238.79,566.25 L240.15,564.91 L241.51,563.56 L242.87,562.21 L244.22,560.85 L245.58,559.48 L246.94,558.1 L248.3,556.71 L249.65,555.32 L251.01,553.92 L252.37,552.51 L253.73,551.1 L255.08,549.68 L256.44,548.25 L257.8,546.81" fill="none" stroke="#000" stroke-width="1.6" stroke-linejoin="round" stroke-linecap="round" />
<path d="M55.5,653 L56.86,652.99 L58.22,652.98 L59.57,652.97 L60.93,652.96 L62.29,652.95 L63.65,652.93 L65,652.92 L66.36,652.9 L67.72,652.89 L69.08,652.87 L70.43,652.86 L71.79,652.84 L73.15,652.82 L74.51,652.8 L75.87,652.78 L77.22,652.77 L78.58,652.75 L79.94,652.73 L81.3,652.71 L82.65,652.68 L84.01,652.66 L85.37,652.64 L86.73,652.62 L88.09,652.59 L89.44,652.56 L90.8,652.54 L92.16,652.51 L93.52,652.48 L94.87,652.45 L96.23,652.41 L97.59,652.38 L98.95,652.34 L100.3,652.3 L101.66,652.26 L103.02,652.21 L104.38,652.16 L105.74,652.11 L107.09,652.06 L108.45,652 L109.81,651.94 L111.17,651.87 L112.52,651.81 L113.88,651.74 L115.24,651.67 L116.6,651.6 L117.96,651.52 L119.31,651.44 L120.67,651.34 L122.03,651.23 L123.39,651.1 L124.74,650.95 L126.1,650.74 L127.46,650.45 L128.82,650.11 L130.17,649.72 L131.53,649.3 L132.89,648.85 L134.25,648.39 L135.61,647.86 L136.96,647.24 L138.32,646.57 L139.68,645.89 L141.04,645.21 L142.39,644.56 L143.75,643.91 L145.11,643.25 L146.47,642.58 L147.82,641.93 L149.18,641.29 L150.54,640.67 L151.9,640.04 L153.26,639.38 L154.61,638.68 L155.97,637.93 L157.33,637.14 L158.69,636.32 L160.04,635.49 L161.4,634.67 L162.76,633.86 L164.12,633.03 L165.48,632.17 L166.83,631.24 L168.19,630.2 L169.55,629.05 L170.91,627.84 L172.26,626.63 L173.62,625.4 L174.98,624.14 L176.34,622.87 L177.69,621.61 L179.05,620.38 L180.41,619.17 L181.77,617.97 L183.13,616.78 L184.48,615.62 L185.84,614.49 L187.2,613.39 L188.56,612.32 L189.91,611.27 L191.27,610.24 L192.63,609.23 L193.99,608.25 L195.34,607.28 L196.7,606.34 L198.06,605.42 L199.42,604.51 L200.78,603.61 L202.13,602.71 L203.49,601.81 L204.85,600.9 L206.21,599.98 L207.56,599.03 L208.92,598.06 L210.28,597.07 L211.64,596.06 L213,595.04 L214.35,594 L215.71,592.95 L217.07,591.89 L218.43,590.82 L219.78,589.74 L221.14,588.65 L222.5,587.56 L223.86,586.45 L225.21,585.34 L226.57,584.23 L227.93,583.1 L229.29,581.97 L230.65,580.83 L232,579.68 L233.36,578.52 L234.72,577.35 L236.08,576.17 L237.43,574.97 L238.79,573.77 L240.15,572.56 L241.51,571.33 L242.87,570.09 L244.22,568.84 L245.58,567.58 L246.94,566.3 L248.3,565.02 L249.65,563.72 L251.01,562.4 L252.37,561.08 L253.73,559.75 L255.08,558.4 L256.44,557.04 L257.8,555.68" fill="none" stroke="#000" stroke-width="1.6" stroke-linejoin="round" stroke-linecap="round" />
<path d="M55.5,653 L56.52,653 L57.53,653 L58.55,653 L59.57,653 L60.58,653 L61.6,653 L62.62,653 L63.63,653 L64.65,653 L65.67,653 L66.68,653 L67.7,653 L68.72,652.99 L69.73,652.99 L70.75,652.99 L71.77,652.99 L72.78,652.98 L73.8,652.98 L74.82,652.97 L75.83,652.97 L76.85,652.96 L77.86,652.95 L78.88,652.94 L79.9,652.93 L80.91,652.92 L81.93,652.91 L82.95,652.89 L83.96,652.88 L84.98,652.86 L86,652.84 L87.01,652.82 L88.03,652.8 L89.05,652.77 L90.06,652.74 L91.08,652.71 L92.1,652.68 L93.11,652.64 L94.13,652.61 L95.15,652.56 L96.16,652.52 L97.18,652.47 L98.2,652.42 L99.21,652.37 L100.23,652.31 L101.25,652.25 L102.26,652.18 L103.28,652.11 L104.3,652.03 L105.31,651.95 L106.33,651.87 L107.35,651.78 L108.36,651.68 L109.38,651.58 L110.4,651.48 L111.41,651.37 L112.43,651.25 L113.45,651.12 L114.46,650.99 L115.48,650.86 L116.49,650.71 L117.51,650.56 L118.53,650.41 L119.54,650.24 L120.56,650.07 L121.58,649.89 L122.59,649.7 L123.61,649.51 L124.63,649.3 L125.64,649.09 L126.66,648.86 L127.68,648.63 L128.69,648.39 L129.71,648.14 L130.73,647.88 L131.74,647.6 L132.76,647.32 L133.78,647.03 L134.79,646.73 L135.81,646.41 L136.83,646.08 L137.84,645.74 L138.86,645.39 L139.88,645.03 L140.89,644.65 L141.91,644.26 L142.93,643.86 L143.94,643.45 L144.96,643.02 L145.98,642.57 L146.99,642.11 L148.01,641.64 L149.03,641.15 L150.04,640.65 L151.06,640.13 L152.08,639.6 L153.09,639.04 L154.11,638.48 L155.13,637.89 L156.14,637.29 L157.16,636.67 L158.17,636.03 L159.19,635.37 L160.21,634.7 L161.22,634.01 L162.24,633.29 L163.26,632.56 L164.27,631.81 L165.29,631.04 L166.31,630.24 L167.32,629.43 L168.34,628.59 L169.36,627.74 L170.37,626.86 L171.39,625.95 L172.41,625.03 L173.42,624.08 L174.44,623.11 L175.46,622.11 L176.47,621.09 L177.49,620.05 L178.51,618.98 L179.52,617.88 L180.54,616.76 L181.56,615.62 L182.57,614.44 L183.59,613.24 L184.61,612.01 L185.62,610.75 L186.64,609.47 L187.66,608.16 L188.67,606.81 L189.69,605.44 L190.71,604.04 L191.72,602.61 L192.74,601.14 L193.76,599.65 L194.77,598.12 L195.79,596.56 L196.81,594.97 L197.82,593.35 L198.84,591.69 L199.85,590 L200.87,588.28 L201.89,586.52 L202.9,584.72 L203.92,582.89 L204.94,581.02 L205.95,579.12 L206.97,577.18 L207.99,575.2 L209,573.19 L210.02,571.13 L211.04,569.04 L212.05,566.91 L213.07,564.73 L214.09,562.52 L215.1,560.27 L216.12,557.97 L217.14,555.64 L218.15,553.26 L219.17,550.83 L220.19,548.37 L221.2,545.86 L222.22,543.31 L223.24,540.71 L224.25,538.07 L225.27,535.38 L226.29,532.65 L227.3,529.86 L228.32,527.03 L229.34,524.16 L230.35,521.23 L231.37,518.26 L232.39,515.24 L233.4,512.16 L234.42,509.04 L235.44,505.86 L236.45,502.64 L237.47,499.36 L238.48,496.03 L239.5,492.64 L240.52,489.21 L241.53,485.71 L242.55,482.17 L243.57,478.56 L244.58,474.91 L245.6,471.19 L246.62,467.42 L247.63,463.59 L248.65,459.7 L249.67,455.76 L250.68,451.75 L251.7,447.69 L252.72,443.56 L253.73,439.37 L254.75,435.12 L255.77,430.81 L256.78,426.44 L257.8,422" fill="none" stroke="#000" stroke-width="1.7" stroke-linejoin="round" stroke-linecap="round" stroke-dasharray="3.4,2.3" stroke-linecap="butt"/>
<path d="M55.5,653 L56.52,653 L57.53,653 L58.55,653 L59.57,653 L60.58,653 L61.6,653 L62.62,653 L63.63,653 L64.65,653 L65.67,653 L66.68,653 L67.7,653 L68.72,653 L69.73,652.99 L70.75,652.99 L71.77,652.99 L72.78,652.99 L73.8,652.99 L74.82,652.98 L75.83,652.98 L76.85,652.97 L77.86,652.97 L78.88,652.96 L79.9,652.96 L80.91,652.95 L81.93,652.94 L82.95,652.93 L83.96,652.92 L84.98,652.91 L86,652.89 L87.01,652.88 L88.03,652.86 L89.05,652.84 L90.06,652.82 L91.08,652.8 L92.1,652.78 L93.11,652.75 L94.13,652.72 L95.15,652.69 L96.16,652.66 L97.18,652.62 L98.2,652.59 L99.21,652.54 L100.23,652.5 L101.25,652.45 L102.26,652.4 L103.28,652.35 L104.3,652.29 L105.31,652.23 L106.33,652.17 L107.35,652.1 L108.36,652.03 L109.38,651.95 L110.4,651.87 L111.41,651.78 L112.43,651.69 L113.45,651.59 L114.46,651.49 L115.48,651.39 L116.49,651.27 L117.51,651.16 L118.53,651.03 L119.54,650.9 L120.56,650.77 L121.58,650.62 L122.59,650.47 L123.61,650.32 L124.63,650.15 L125.64,649.98 L126.66,649.8 L127.68,649.62 L128.69,649.42 L129.71,649.22 L130.73,649.01 L131.74,648.79 L132.76,648.56 L133.78,648.32 L134.79,648.07 L135.81,647.81 L136.83,647.55 L137.84,647.27 L138.86,646.98 L139.88,646.68 L140.89,646.37 L141.91,646.05 L142.93,645.72 L143.94,645.37 L144.96,645.01 L145.98,644.64 L146.99,644.26 L148.01,643.87 L149.03,643.46 L150.04,643.04 L151.06,642.6 L152.08,642.15 L153.09,641.69 L154.11,641.21 L155.13,640.72 L156.14,640.21 L157.16,639.68 L158.17,639.14 L159.19,638.59 L160.21,638.01 L161.22,637.42 L162.24,636.81 L163.26,636.19 L164.27,635.54 L165.29,634.88 L166.31,634.2 L167.32,633.5 L168.34,632.78 L169.36,632.05 L170.37,631.29 L171.39,630.51 L172.41,629.71 L173.42,628.89 L174.44,628.05 L175.46,627.18 L176.47,626.3 L177.49,625.39 L178.51,624.45 L179.52,623.5 L180.54,622.52 L181.56,621.52 L182.57,620.49 L183.59,619.44 L184.61,618.36 L185.62,617.25 L186.64,616.12 L187.66,614.97 L188.67,613.78 L189.69,612.57 L190.71,611.33 L191.72,610.07 L192.74,608.77 L193.76,607.44 L194.77,606.09 L195.79,604.7 L196.81,603.29 L197.82,601.84 L198.84,600.37 L199.85,598.86 L200.87,597.32 L201.89,595.74 L202.9,594.13 L203.92,592.49 L204.94,590.82 L205.95,589.11 L206.97,587.36 L207.99,585.59 L209,583.77 L210.02,581.92 L211.04,580.03 L212.05,578.1 L213.07,576.14 L214.09,574.13 L215.1,572.09 L216.12,570.01 L217.14,567.89 L218.15,565.73 L219.17,563.53 L220.19,561.28 L221.2,559 L222.22,556.67 L223.24,554.3 L224.25,551.88 L225.27,549.42 L226.29,546.92 L227.3,544.37 L228.32,541.78 L229.34,539.14 L230.35,536.45 L231.37,533.72 L232.39,530.94 L233.4,528.11 L234.42,525.23 L235.44,522.3 L236.45,519.32 L237.47,516.29 L238.48,513.21 L239.5,510.08 L240.52,506.89 L241.53,503.65 L242.55,500.36 L243.57,497.02 L244.58,493.62 L245.6,490.16 L246.62,486.65 L247.63,483.08 L248.65,479.46 L249.67,475.78 L250.68,472.03 L251.7,468.23 L252.72,464.38 L253.73,460.46 L254.75,456.48 L255.77,452.43 L256.78,448.33 L257.8,444.16" fill="none" stroke="#000" stroke-width="1.7" stroke-linejoin="round" stroke-linecap="round" stroke-dasharray="3.4,2.3" stroke-linecap="butt"/>
</g>
<text x="55.5" y="677.2" font-size="17.5" text-anchor="middle">0</text>
<text x="95.96" y="677.2" font-size="17.5" text-anchor="middle">0.1</text>
<text x="136.42" y="677.2" font-size="17.5" text-anchor="middle">0.2</text>
<text x="176.88" y="677.2" font-size="17.5" text-anchor="middle">0.3</text>
<text x="217.34" y="677.2" font-size="17.5" text-anchor="middle">0.4</text>
<text x="257.8" y="677.2" font-size="17.5" text-anchor="middle">0.5</text>
<text x="51.6" y="659.6" font-size="17.5" text-anchor="end">0</text>
<text x="51.6" y="623.42" font-size="17.5" text-anchor="end">0.2</text>
<text x="51.6" y="587.24" font-size="17.5" text-anchor="end">0.4</text>
<text x="51.6" y="551.06" font-size="17.5" text-anchor="end">0.6</text>
<text x="51.6" y="514.88" font-size="17.5" text-anchor="end">0.8</text>
<text x="51.6" y="478.7" font-size="17.5" text-anchor="end">1.0</text>
<text x="157.5" y="699" font-size="17.5" text-anchor="middle"><tspan font-style="italic">T</tspan>/<tspan font-style="italic">T</tspan><tspan font-size="12.5" dy="3.5">c</tspan></text>
<text x="0" y="0" font-size="17.9" text-anchor="middle" transform="translate(15.1,556.6) rotate(-90)"><tspan font-style="italic">Δλ</tspan>(<tspan font-style="italic">T</tspan>)/<tspan font-style="italic">Δλ</tspan>(0.5<tspan font-style="italic">T</tspan><tspan font-size="12.5" dy="3.5">c</tspan><tspan dy="-3.5">)</tspan></text>
<circle cx="73.6" cy="477.7" r="4.6" fill="#ff0000"/>
<text x="93" y="482" font-size="14.1">KV<tspan font-size="10.0" dy="3.5">3</tspan><tspan dy="-3.5">Sb</tspan><tspan font-size="10.0" dy="3.5">5</tspan></text>
<circle cx="73.6" cy="496.6" r="4.6" fill="#4848ff"/>
<text x="93" y="500.5" font-size="14.1">RbV<tspan font-size="10.0" dy="3.5">3</tspan><tspan dy="-3.5">Sb</tspan><tspan font-size="10.0" dy="3.5">5</tspan></text>
<circle cx="73.6" cy="515.2" r="4.6" fill="#009600"/>
<text x="93" y="519.2" font-size="14.1">CsV<tspan font-size="10.0" dy="3.5">3</tspan><tspan dy="-3.5">Sb</tspan><tspan font-size="10.0" dy="3.5">5</tspan></text>
<text x="90.5" y="536.7" font-size="12.5">(Roppongi <tspan font-style="italic">et al.</tspan>)</text>
<defs><linearGradient id="bg" gradientUnits="userSpaceOnUse" x1="482" y1="0" x2="537" y2="0"><stop offset="0" stop-color="#f7dfe0"/><stop offset="0.5" stop-color="#e9e4da"/><stop offset="1" stop-color="#dae9d6"/></linearGradient></defs>
<rect x="384.6" y="223.5" width="202.7" height="404" fill="url(#bg)"/>
<line x1="404.87" y1="229.1" x2="404.87" y2="277" stroke="#ff5050" stroke-width="1.6" />
<line x1="401.17" y1="229.1" x2="408.57" y2="229.1" stroke="#ff5050" stroke-width="1.6" />
<line x1="401.17" y1="277" x2="408.57" y2="277" stroke="#ff5050" stroke-width="1.6" />
<line x1="401.17" y1="235.3" x2="408.57" y2="235.3" stroke="#ffa500" stroke-width="1.6" />
<line x1="453.52" y1="230.2" x2="453.52" y2="266" stroke="#ffa500" stroke-width="1.6" />
<line x1="449.82" y1="230.2" x2="457.22" y2="230.2" stroke="#ffa500" stroke-width="1.6" />
<line x1="449.82" y1="266" x2="457.22" y2="266" stroke="#ffa500" stroke-width="1.6" />
<path d="M404.87,236.8 L412.47,244.4 L404.87,252 L397.27,244.4 Z" fill="#ffa500" stroke="#111" stroke-width="1.3" stroke-linejoin="miter"/>
<line x1="404.87" y1="229.1" x2="404.87" y2="262" stroke="#ff5050" stroke-width="1.6" opacity="0.85"/>
<path d="M404.87,261.9 L412.47,269.5 L404.87,277.1 L397.27,269.5 Z" fill="#ff0000" stroke="#111" stroke-width="1.3" stroke-linejoin="miter"/>
<path d="M453.52,238.7 L461.12,246.3 L453.52,253.9 L445.92,246.3 Z" fill="#ffa500" stroke="#111" stroke-width="1.3" stroke-linejoin="miter"/>
<path d="M453.52,264.3 L461.12,271.9 L453.52,279.5 L445.92,271.9 Z" fill="#ff0000" stroke="#111" stroke-width="1.3" stroke-linejoin="miter"/>
<path d="M550.81,300.6 L558.41,308.2 L550.81,315.8 L543.21,308.2 Z" fill="#ff0000" stroke="#111" stroke-width="1.3" stroke-linejoin="miter"/>
<path d="M550.81,310.3 L558.41,317.9 L550.81,325.5 L543.21,317.9 Z" fill="#ffa500" stroke="#111" stroke-width="1.3" stroke-linejoin="miter"/>
<line x1="465" y1="246.3" x2="486" y2="246.3" stroke="#ffa500" stroke-width="2.2" />
<path d="M490.6,246.3 L483.6,242.6 L483.6,250.0 Z" fill="#ffa500"/>
<line x1="466" y1="286.9" x2="445" y2="286.9" stroke="#ff0000" stroke-width="2.2" />
<path d="M440.3,286.9 L447.3,283.2 L447.3,290.6 Z" fill="#ff0000"/>
<rect x="399.8" y="379.0" width="113.5" height="39.5" fill="#ffffff" fill-opacity="0.5"/>
<circle cx="413.2" cy="389.6" r="4" fill="#0aa6f2" stroke="#111" stroke-width="1.1"/>
<circle cx="413.2" cy="406.4" r="4" fill="#6a0ad6" stroke="#111" stroke-width="1.1"/>
<text x="430.6" y="394.3" font-size="12.5"><tspan font-style="italic">T</tspan><tspan font-size="9.3" dy="3.0">c</tspan><tspan dy="-3.0"> (resistivity)</tspan></text>
<text x="430.6" y="410.9" font-size="12.5"><tspan font-style="italic">T</tspan><tspan font-size="9.3" dy="3.0">c</tspan><tspan dy="-3.0"> (TDO)</tspan></text>
<circle cx="404.87" cy="479.8" r="5.2" fill="#6a0ad6" stroke="#111" stroke-width="1.2"/>
<circle cx="404.87" cy="471.4" r="5.2" fill="#0aa6f2" stroke="#111" stroke-width="1.2"/>
<circle cx="453.52" cy="478.2" r="5.2" fill="#0aa6f2" stroke="#111" stroke-width="1.2"/>
<circle cx="550.81" cy="390" r="5.2" fill="#0aa6f2" stroke="#111" stroke-width="1.2"/>
<rect x="399.87" y="524.8" width="10" height="10" fill="#009600" stroke="#111" stroke-width="1.1"/>
<rect x="448.52" y="549.5" width="10" height="10" fill="#009600" stroke="#111" stroke-width="1.1"/>
<rect x="545.81" y="536.7" width="10" height="10" fill="#009600" stroke="#111" stroke-width="1.1"/>
<text x="406.4" y="596.8" font-size="16" fill="#f05a64">TrH-TrH</text>
<text x="510.2" y="596.8" font-size="16" fill="#50a83c">TrH-SoD</text>
<rect x="384.6" y="223.5" width="202.7" height="404" fill="none" stroke="#222" stroke-width="1.3"/>
<line x1="384.6" y1="365.4" x2="587.3" y2="365.4" stroke="#222" stroke-width="1.3" />
<line x1="384.6" y1="507.4" x2="587.3" y2="507.4" stroke="#222" stroke-width="1.3" />
<line x1="425.14" y1="223.5" x2="425.14" y2="231" stroke="#333" stroke-width="1.3" />
<line x1="425.14" y1="627.5" x2="425.14" y2="620.7" stroke="#333" stroke-width="1.3" />
<line x1="465.68" y1="223.5" x2="465.68" y2="231" stroke="#333" stroke-width="1.3" />
<line x1="465.68" y1="627.5" x2="465.68" y2="620.7" stroke="#333" stroke-width="1.3" />
<line x1="506.22" y1="223.5" x2="506.22" y2="231" stroke="#333" stroke-width="1.3" />
<line x1="506.22" y1="627.5" x2="506.22" y2="620.7" stroke="#333" stroke-width="1.3" />
<line x1="546.76" y1="223.5" x2="546.76" y2="231" stroke="#333" stroke-width="1.3" />
<line x1="546.76" y1="627.5" x2="546.76" y2="620.7" stroke="#333" stroke-width="1.3" />
<line x1="384.6" y1="333.95" x2="392.6" y2="333.95" stroke="#444" stroke-width="1.3" />
<line x1="384.6" y1="302.5" x2="392.6" y2="302.5" stroke="#444" stroke-width="1.3" />
<line x1="384.6" y1="271.05" x2="392.6" y2="271.05" stroke="#444" stroke-width="1.3" />
<line x1="384.6" y1="239.6" x2="392.6" y2="239.6" stroke="#444" stroke-width="1.3" />
<line x1="587.3" y1="345.28" x2="582.9" y2="345.28" stroke="#444" stroke-width="1.3" />
<line x1="587.3" y1="325.16" x2="579.5" y2="325.16" stroke="#444" stroke-width="1.3" />
<line x1="587.3" y1="305.04" x2="582.9" y2="305.04" stroke="#444" stroke-width="1.3" />
<line x1="587.3" y1="284.92" x2="579.5" y2="284.92" stroke="#444" stroke-width="1.3" />
<line x1="587.3" y1="264.8" x2="582.9" y2="264.8" stroke="#444" stroke-width="1.3" />
<line x1="587.3" y1="244.68" x2="579.5" y2="244.68" stroke="#444" stroke-width="1.3" />
<line x1="384.6" y1="466.83" x2="392.6" y2="466.83" stroke="#444" stroke-width="1.3" />
<line x1="587.3" y1="466.83" x2="579.3" y2="466.83" stroke="#444" stroke-width="1.3" />
<line x1="384.6" y1="426.26" x2="392.6" y2="426.26" stroke="#444" stroke-width="1.3" />
<line x1="587.3" y1="426.26" x2="579.3" y2="426.26" stroke="#444" stroke-width="1.3" />
<line x1="384.6" y1="385.69" x2="392.6" y2="385.69" stroke="#444" stroke-width="1.3" />
<line x1="587.3" y1="385.69" x2="579.3" y2="385.69" stroke="#444" stroke-width="1.3" />
<line x1="384.6" y1="584.6" x2="392.6" y2="584.6" stroke="#444" stroke-width="1.3" />
<line x1="587.3" y1="584.6" x2="579.3" y2="584.6" stroke="#444" stroke-width="1.3" />
<line x1="384.6" y1="541.7" x2="392.6" y2="541.7" stroke="#444" stroke-width="1.3" />
<line x1="587.3" y1="541.7" x2="579.3" y2="541.7" stroke="#444" stroke-width="1.3" />
<text x="381.2" y="371.25" font-size="17.5" text-anchor="end">1</text>
<text x="381.2" y="339.8" font-size="17.5" text-anchor="end">2</text>
<text x="381.2" y="308.35" font-size="17.5" text-anchor="end">3</text>
<text x="381.2" y="276.9" font-size="17.5" text-anchor="end">4</text>
<text x="381.2" y="245.45" font-size="17.5" text-anchor="end">5</text>
<text x="380.6" y="513.25" font-size="17.5" text-anchor="end">0</text>
<text x="380.6" y="472.68" font-size="17.5" text-anchor="end">1</text>
<text x="380.6" y="432.11" font-size="17.5" text-anchor="end">2</text>
<text x="380.6" y="391.54" font-size="17.5" text-anchor="end">3</text>
<text x="380.6" y="633.35" font-size="17.5" text-anchor="end">0</text>
<text x="380.6" y="590.45" font-size="17.5" text-anchor="end">10</text>
<text x="380.6" y="547.55" font-size="17.5" text-anchor="end">20</text>
<text x="591" y="371.25" font-size="17.5">0</text>
<text x="591" y="331.01" font-size="17.5">0.4</text>
<text x="591" y="290.77" font-size="17.5">0.8</text>
<text x="591" y="250.53" font-size="17.5">1.2</text>
<text x="384.6" y="649.8" font-size="17.5" text-anchor="middle">8.9</text>
<text x="425.14" y="649.8" font-size="17.5" text-anchor="middle">9.0</text>
<text x="465.68" y="649.8" font-size="17.5" text-anchor="middle">9.1</text>
<text x="506.22" y="649.8" font-size="17.5" text-anchor="middle">9.2</text>
<text x="546.76" y="649.8" font-size="17.5" text-anchor="middle">9.3</text>
<text x="587.3" y="649.8" font-size="17.5" text-anchor="middle">9.4</text>
<text x="405.37" y="217.3" font-size="17.5" text-anchor="middle" fill="#ff0000">K</text>
<text x="456.32" y="217.3" font-size="17.5" text-anchor="middle" fill="#0000ff">Rb</text>
<text x="552.81" y="216.8" font-size="17.5" text-anchor="middle" fill="#14a05a">Cs</text>
<text x="0" y="0" font-size="17.5" text-anchor="middle" transform="translate(355.6,294.6) rotate(-90)">Exponent <tspan font-style="italic">n</tspan></text>
<text x="0" y="0" font-size="17.5" text-anchor="middle" transform="translate(355.0,434.6) rotate(-90)"><tspan font-style="italic">T</tspan><tspan font-size="12.5" dy="3.5">c</tspan><tspan dy="-3.5"> (K)</tspan></text>
<text x="0" y="0" font-size="17.5" text-anchor="middle" transform="translate(355.2,567.7) rotate(-90)"><tspan font-style="italic">γ</tspan> (mJ/mol K<tspan font-size="12" dy="-11">2</tspan><tspan dy="11">)</tspan></text>
<text x="0" y="0" font-size="17.5" text-anchor="middle" transform="translate(650.8,292.2) rotate(90)">Minimum gap size</text>
<text x="0" y="0" font-size="17.5" text-anchor="middle" transform="translate(629.3,294.7) rotate(90)"><tspan font-style="italic">Δ</tspan><tspan font-size="12.5" dy="3.5">0</tspan><tspan dy="-3.5">/</tspan><tspan font-style="italic">k</tspan><tspan font-size="12.5" dy="3.5">B</tspan><tspan dy="-3.5" font-style="italic">T</tspan><tspan font-size="12.5" dy="3.5">c</tspan></text>
<text x="488.8" y="676.6" font-size="17.5" text-anchor="middle"><tspan font-style="italic">c</tspan>-axis length ( Å )</text>
<text x="2.3" y="15.6" font-size="21.5" font-weight="bold">a</text>
<text x="231" y="15.6" font-size="21.5" font-weight="bold">b</text>
<text x="460.6" y="15.6" font-size="21.5" font-weight="bold">c</text>
<text x="1.6" y="175.6" font-size="21.5" font-weight="bold">d</text>
<text x="1.6" y="450.4" font-size="21.5" font-weight="bold">e</text>
<text x="314.2" y="238" font-size="21.5" font-weight="bold">f</text>
<text x="311.8" y="376.8" font-size="21.5" font-weight="bold">g</text>
<text x="311.9" y="520.8" font-size="21.5" font-weight="bold">h</text>
</svg></body></html>
